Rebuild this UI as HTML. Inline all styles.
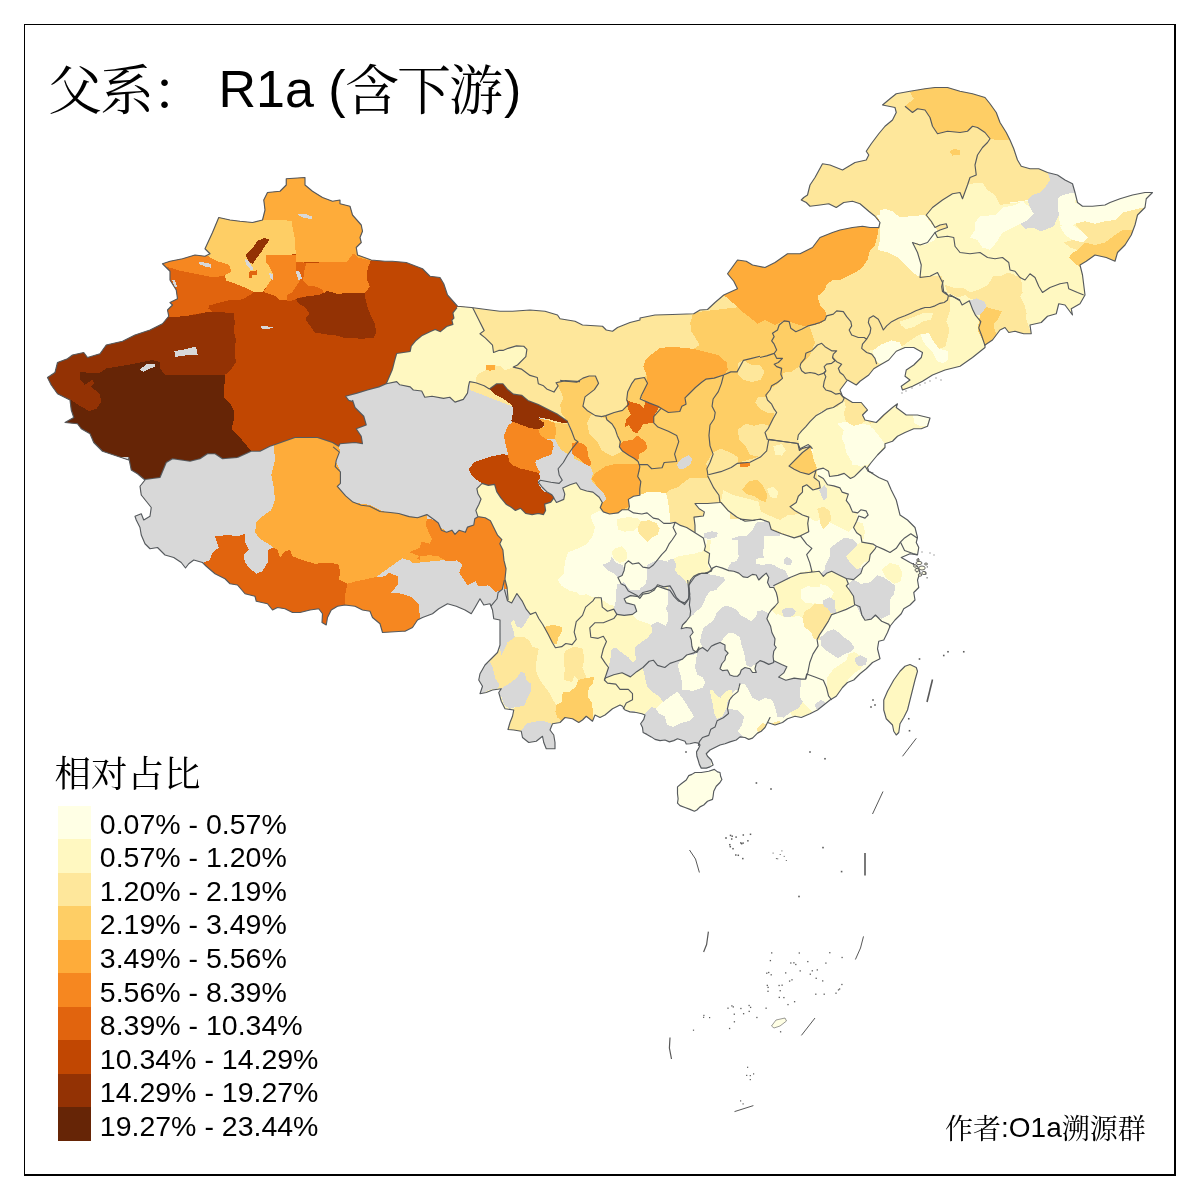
<!DOCTYPE html>
<html lang="zh"><head><meta charset="utf-8"><title>父系： R1a (含下游)</title>
<style>
html,body{margin:0;padding:0;background:#fff}
body{width:1200px;height:1200px;position:relative;overflow:hidden;font-family:"Liberation Sans","Noto Serif CJK SC",sans-serif;color:#000}
.fr{position:absolute;background:#000}
.title{position:absolute;left:0;top:0;white-space:pre}
.title span{position:absolute;line-height:60px;white-space:pre}
.tc{font-size:54px;letter-spacing:-2px}
.tl{font-size:52px}
.cj{font-family:"Noto Serif CJK SC","Liberation Serif",serif;font-weight:400}
.lt{position:absolute;left:54.6px;top:748.8px;font-size:36.5px;line-height:44px;white-space:nowrap}
.sw{position:absolute;left:58px;width:33px}
.ll{position:absolute;left:99.8px;font-size:28.5px;line-height:32px;white-space:nowrap}
.au{position:absolute;left:945px;top:1109.5px;font-size:28px;line-height:34px;white-space:nowrap}
.au .la{position:relative;top:-1.5px}
</style></head><body>
<svg width="1200" height="1200" viewBox="0 0 1200 1200" style="position:absolute;left:0;top:0">
<defs><clipPath id="cn"><path d="M128.75 460 L102.5 451.25 L93.75 442.5 L90 433.75 L81.25 428.75 L77.5 423.75 L65 422.5 L73.75 417.5 L71.25 410 L70 400 L57.5 393.75 L51.25 385 L47.5 377.5 L55 372.5 L57.5 362.5 L67.5 358.75 L72.5 355 L83.75 352.5 L87.5 357.5 L100 353.75 L106.25 345 L122.5 341.25 L135 335 L150 330 L162.5 323.75 L168.75 316.25 L167.5 310 L172.5 305 L170 302.5 L177.5 298.75 L176.25 290 L170 280 L170 271.25 L162.5 263.75 L170 261.25 L182.5 258.75 L195 255 L205 256.25 L210 253.75 L205 248.75 L212.5 232.5 L218.75 217.5 L230 220 L240 221.25 L252.5 222.5 L262.5 220 L265 210 L263.75 200 L267.5 192.5 L280 191.25 L286.25 185 L286.25 178.75 L305 177.5 L305 185 L312.5 191.25 L322.5 197.5 L332.5 201.25 L340 200 L340 203.75 L350 206.25 L352.5 215 L361.25 225 L362.5 231.25 L360 237.5 L361.25 242.5 L356.25 247.5 L357.5 255 L371.25 260 L385 261.25 L392.5 261.25 L406.25 262.5 L422.5 268.75 L430 276.25 L440 277.5 L443.75 283.75 L447.5 295 L457.5 306.25 L471.25 307.5 L490 310 L500 311.25 L512.5 311.25 L530 310 L545 311.25 L557.5 315 L560 318.75 L575 321.25 L582.5 325 L602.5 326.25 L606.25 330 L612.5 331.25 L617.5 327.5 L630 322.5 L640 320 L640 318 L655 315 L672.5 314.5 L693.75 313.75 L700 310 L707.5 309.5 L715 302.5 L723.75 295 L737.5 288.75 L733.75 281.25 L727.5 273.75 L737.5 260 L746.25 261.25 L752.5 265 L765 267.5 L775 262.5 L787.5 253.75 L800 253.75 L812.5 247.5 L820 237.5 L832.5 232.5 L840 230 L852.5 227.5 L862.5 226.25 L870 227.5 L878.75 227.5 L880 222.5 L875 216.25 L868.75 211.25 L860 203.75 L852.5 201.25 L843.75 202.5 L836.25 207.5 L828.75 203.75 L820 205 L810 206.25 L806.25 202.5 L801.25 200 L803.75 197.5 L807.5 195 L810 185 L815 177.5 L822.5 163.75 L830 165 L842.5 170 L855 162.5 L866.25 160 L866.25 160 L868.75 155 L866.25 151.25 L871.25 143.75 L878.75 133.75 L885 126.25 L892.5 120 L896.25 112.5 L895 107.5 L882.5 105 L890 98.75 L896.25 93.75 L910 91.25 L925 88.75 L935 87.5 L947.5 87.5 L960 91.25 L972.5 93.75 L985 97.5 L990 103.75 L996.25 112.5 L1000 122.5 L1006.25 132.5 L1010 140 L1013.75 148.75 L1017.5 160 L1021.25 166.25 L1030 168.75 L1038.75 168.75 L1047.5 172.5 L1057.5 175 L1065 180 L1072.5 183.75 L1075 192.5 L1077.5 202.5 L1082.5 206.25 L1092.5 206.25 L1105 205 L1110 202.5 L1120 198.75 L1132.5 195 L1145 192.5 L1152.5 192.5 L1146.25 198.75 L1145 207.5 L1137.5 215 L1135 225 L1131.25 235 L1125 245 L1117.5 252.5 L1115 261.25 L1106.25 257.5 L1095 255 L1086.25 261.25 L1080 265 L1082.5 275 L1083.75 285 L1085 295 L1080 303.75 L1071.25 308.75 L1072.5 315 L1065 305 L1058.75 303.75 L1056.25 313.75 L1047.5 316.25 L1041.25 322.5 L1030 325 L1031.25 333.75 L1023.75 333.75 L1015 331.25 L1008.75 332.5 L1005 327.5 L1000 330 L992.5 340 L985 345 L985 347.5 L972.5 357.5 L960 366.25 L945 370 L932.5 375 L922.5 381.25 L912.5 386.25 L902.5 390 L901.25 386.25 L910 380 L905 376.25 L906.25 370 L913.75 365 L921.25 357.5 L922.5 352.5 L913.75 347.5 L905 347.5 L896.25 351.25 L888.75 360 L880 365 L873.75 368.75 L868.75 375 L860 381.25 L856.25 385 L847.5 380 L843.75 385 L840 390 L842.5 396.25 L852.5 402.5 L861.25 402.5 L867.5 410 L862.5 415 L865 420 L876.25 422.5 L883.75 415 L892.5 407.5 L897.5 403.75 L896.25 407.5 L901.25 411.25 L906.25 415 L917.5 415 L930 418 L927.5 426.25 L921.25 428.75 L913.75 428.75 L905 432.5 L897.5 436.25 L892.5 441.25 L885 443.75 L885 447.5 L877.5 455 L871.25 462.5 L867.5 467.5 L868.75 471.25 L878.75 477.5 L887.5 481.25 L891.25 490 L896.25 500 L900 515 L907.5 520 L915 527.5 L917.5 537.5 L916.25 542.5 L918.75 547.5 L917.5 555 L910 553.75 L901.25 557.5 L910 562.5 L917.5 566.25 L920 572.5 L917.5 580 L918.75 587.5 L913.75 592.5 L915 600 L910 605 L903.75 608.75 L901.25 613.75 L895 620 L890 626.25 L887.5 632.5 L883.75 640 L878.75 641.25 L877.5 648.75 L880 658.75 L872.5 662.5 L866.25 668.75 L860 673.75 L853.75 680 L847.5 682.5 L842.5 687.5 L836.25 696.25 L830 700 L823.75 705 L817.5 710 L810 713.75 L801.25 717.5 L795 716.25 L787.5 718.75 L782.5 722.5 L775 725 L767.5 722.5 L770 717.5 L767.5 722.5 L765 727.5 L761.25 731.25 L757.5 733.12 L752.5 738.12 L748.75 739.38 L745 737.5 L740 736.88 L736.25 740 L730 741.88 L725 743.75 L720 745 L715 747.5 L710 750 L706.25 753.75 L707.5 756.25 L711.25 760 L713.12 765 L710 766.88 L706.25 768.12 L701.25 768.12 L699.38 764.38 L698.12 760 L696.88 756.25 L696.5 751.88 L698.75 748.12 L700 745 L698.12 743.12 L695 742.5 L690 743.75 L686.25 744 L685 741.25 L681.25 740 L677.5 738.75 L673.75 740.62 L669.38 741.88 L665 740 L660 740.62 L655 739.38 L651.25 736.88 L646.88 734.38 L643.12 732.5 L642.5 727.5 L640.62 723.75 L643.75 719.38 L645 715 L641.88 713.75 L636.25 712.5 L630 711.88 L625 710 L622.5 706.25 L620 705 L612.5 708.75 L605 715 L600 717.5 L595 715 L592.5 721.25 L586.25 716.25 L582.5 720 L578.75 722.5 L572.5 718.75 L565 717.5 L560 722.5 L552.5 723.75 L550 730 L553.75 735 L555 742.5 L555 748.75 L546.25 748.75 L543.75 742.5 L542.5 736.25 L536.25 741.25 L528.75 742.5 L522.5 737.5 L521.25 731.25 L513.75 730 L508 729.5 L510 722.5 L512.5 716.25 L513.75 710 L505 708.75 L501.25 701.25 L498.75 692.5 L501.25 688.75 L492.5 690 L486.25 692.5 L480 693.75 L482.5 686.25 L478.75 680 L480 673.75 L485 665 L491.25 658.75 L497.5 652.5 L500 645 L500 632.5 L500 620 L493.75 618.75 L492.5 610 L490 603.75 L483.75 605 L480 598.75 L475 607.5 L471.25 613.75 L465 610 L456.25 606.25 L447.5 603.75 L438.75 608.75 L432.5 613.75 L422.5 617.5 L417.5 620 L412.5 627.5 L405 631.25 L402.5 631.25 L382.5 632.5 L380 623.75 L372.5 617.5 L370 611.25 L362.5 610 L355 606.25 L345 605 L337.5 606.25 L331.25 610 L327.5 617.5 L326.25 625 L322 622.5 L322.5 613.75 L318.75 608.75 L310 610 L300 612.5 L292.5 612.5 L285 608.75 L277.5 607.5 L272.5 610 L267.5 603.75 L256.25 601.25 L255 596.25 L245 593.75 L237.5 585 L230 583.75 L225 578.75 L215 573.75 L206.25 566.25 L202.5 562.5 L193.75 560 L188.75 563.75 L185.5 568 L181.25 562.5 L173.75 557.5 L165 555 L157.5 547.5 L150 548.75 L145 543.75 L141.25 535 L140 527.5 L136.25 520 L135 516.25 L141.25 513.75 L143.75 520 L150 516.25 L151.25 507.5 L146.25 501.25 L141.25 495 L140 486.25 L145 480 L137.5 473.75 L131.25 470 L128.75 457.5Z M695 772.5 L701.25 772.5 L708.75 771.25 L714.38 769.38 L717.5 771.88 L720 772.5 L720.62 776.25 L721.88 779.38 L720 782.5 L716.25 786.25 L713.75 791.25 L713.12 796.25 L712.5 799.38 L707.5 801.25 L703.75 805 L700 806.88 L696.88 810 L694.38 811.25 L690 809.38 L685 807.5 L680 805.62 L677.5 803.12 L678.12 798.75 L677.5 793.75 L677.5 786.88 L681.25 783.75 L686.25 780 L688.75 775.62 L691.88 774.38Z M910 664.5 L916.25 667.5 L917.5 671.25 L915 680 L912.5 690 L910 700 L907.5 710 L903.75 717.5 L900 723.75 L898.75 732.5 L896.25 735 L893.75 731.25 L892.5 725 L886.25 718.75 L883.75 710 L883.75 700 L887.5 691.25 L893.75 680 L900 671.25 L905 666.25Z"/></clipPath></defs>
<g clip-path="url(#cn)" shape-rendering="crispEdges">
<rect x="40" y="80" width="1130" height="760" fill="#ffffe5"/>
<polygon fill="#c14702" points="40,160 470,160 470,480 40,480"/>
<polygon fill="#662506" points="225.42,374.58 224.38,385 224.38,397.5 230.62,403.75 233.75,410 233.75,420.42 231.67,428.75 237.92,435 243.12,441.25 248.33,447.5 251.46,451.67 251.46,499.58 40,499.58 40,357.92 165,357.92 165,374.58"/>
<polygon fill="#e1640e" points="170.83,267.92 181.25,271.04 191.67,273.12 202.08,275.21 212.5,277.29 220.83,276.25 225,275.21 226.04,280.42 237.5,284.58 247.92,288.75 254.17,291.88 250,295 244.79,298.12 239.58,300.21 229.17,300.21 216.67,303.33 209.38,305.42 208.33,308.54 212.5,311.67 204.17,312.71 191.67,314.79 183.33,320 162.5,322.08 158.33,305.42 162.5,286.67 162.5,265.83"/>
<polygon fill="#933204" points="167.08,317.29 183.75,316.25 198.33,314.17 206.67,312.08 219.17,312.08 233.75,313.12 234.79,322.5 233.75,330.83 235.83,339.17 234.79,351.67 235.83,362.08 230.62,370.42 225.42,374.58 165,374.58 159.79,368.33 159.79,362.08 152.5,360 142.08,362.08 131.67,364.17 119.17,366.25 106.67,368.33 100.42,372.5 92.08,373.54 80.62,371.46 79.58,378.75 84.79,385 92.08,379.79 94.17,382.92 91.04,387.08 99.38,393.33 101.46,401.67 96.25,408.96 88.96,411.04 81.67,406.88 73.33,401.67 71.25,399.58 40,399.58 40,317.29"/>
<polygon fill="#feac3a" points="263.54,220 279.17,219.58 291.67,221.04 292.71,228.33 294.79,238.75 295.83,254.38 295.83,261.67 306.25,262.08 346.88,262.08 353.12,253.33 358.33,257.5 370.83,260.62 379.17,232.5 370.83,170 254.17,170 254.17,220"/>
<polygon fill="#fece65" points="204.17,253.33 210.42,257.5 218.75,261.67 229.17,264.79 231.25,272.08 225,275.21 226.04,280.42 237.5,284.58 247.92,288.75 254.17,291.88 262.5,291.88 266.67,286.67 270.83,280.42 272.92,274.17 269.79,266.88 265.62,261.67 265.62,255.42 295.83,254.38 294.79,238.75 292.71,228.33 291.67,221.04 279.17,219.58 263.54,220 254.17,211.67 218.75,211.67 200,242.92"/>
<polygon fill="#933204" points="269.79,238.75 266.67,243.96 263.54,248.12 260.42,253.33 256.25,258.54 253.12,263.75 250,262.71 246.88,258.54 245.83,254.38 250,250.21 254.17,246.04 257.29,240.83 263.54,238.33"/>
<polygon fill="#e1640e" points="249.58,271.04 257.29,270.42 256.67,275.21 252.08,275.21 251.67,278.33 249.17,278.33"/>
<polygon fill="#d8d8d8" points="244.79,258.54 247.92,260.62 253.54,268.96 251.04,270.42 245.83,263.75"/>
<polygon fill="#f68720" points="265.62,255.42 295.83,255 295.83,261.67 306.25,262.71 304.17,272.08 303.12,280.42 295.83,286.67 291.67,292.92 287.5,295 286.46,300.21 280.21,300.21 275,296.04 266.67,292.92 263.54,291.88 266.67,286.67 270.83,280.42 272.92,274.17 269.79,266.88 265.62,261.67"/>
<polygon fill="#e1640e" points="295.83,262.08 306.25,262.71 304.17,272.08 303.12,280.42 308.33,285.62 316.67,286.67 322.92,289.79 323.96,292.92 318.75,295 308.33,296.04 300,297.5 295.83,299.17 289.58,301.25 286.46,300.21 287.5,295 291.67,292.92 295.83,286.67 300,280.42 295.83,270"/>
<polygon fill="#f68720" points="306.25,262.71 346.88,262.08 353.12,253.33 358.33,257.5 370.83,260.62 367.71,267.92 366.67,278.33 369.79,286.67 366.67,290.83 364.58,292.92 347.92,292.92 337.5,293.96 327.08,290.83 323.96,292.92 322.92,289.79 316.67,286.67 308.33,285.62 303.12,280.42 304.17,272.08"/>
<polygon fill="#933204" points="295.83,298.75 308.33,296.04 318.75,295 323.96,292.92 327.08,290.83 337.5,293.96 347.92,292.92 364.58,292.92 365.62,299.17 367.71,307.5 370.83,315.83 375,324.17 376.04,332.5 373.96,337.71 362.5,338.75 343.75,337.71 337.5,335.62 327.08,334.58 314.58,332.5 310.42,326.25 305.21,318.96 309.38,313.75 305.21,307.5 300,304.38 296.88,301.25"/>
<polygon fill="#f68720" points="158.33,261.67 170.83,258.54 194.79,252.29 204.17,253.33 210.42,257.5 218.75,261.67 229.17,264.79 231.25,272.08 225,275.21 220.83,276.25 212.5,277.29 202.08,275.21 191.67,273.12 181.25,271.04 170.83,267.92 162.5,265.83"/>
<polygon fill="#d8d8d8" points="174.38,351.04 185.83,349.17 195.83,346.46 197.71,354.79 185.83,355.42 175.42,356.88"/>
<polygon fill="#d8d8d8" points="140,369.38 147.29,363.54 155.62,363.54 155,366.67 148.33,369.38 143.12,371.88"/>
<polygon fill="#d8d8d8" points="198.96,261.67 210.42,263.75 211.46,267.92 204.17,266.25 199.58,264.17"/>
<polygon fill="#d8d8d8" points="297.92,213.75 306.25,214.17 312.5,216.88 311.46,218.96 304.17,217.92 298.96,215.83"/>
<polygon fill="#d8d8d8" points="260.42,326.25 272.92,326.67 272.5,328.33 262.5,329.17"/>
<polygon fill="#d8d8d8" points="295.83,271.04 299.58,271.67 302.08,278.33 298.33,280.42 296.88,275.21"/>
<polygon fill="#d8d8d8" points="269.17,273.12 272.92,274.17 272.5,280 270.42,278.33"/>
<polygon fill="#d8d8d8" points="171.88,279.38 175,280.42 177.08,286.67 174.58,287.71"/>
<polygon fill="#d8d8d8" points="120,457 128.75,457.5 131.25,470 137.5,473.75 145,479.5 160,477.5 166.25,462.5 172.5,458.75 190,461.25 200,458.75 207.5,453.75 215,453.75 222.5,458.75 237.5,457.5 251.25,451.25 260,451.25 270,446.25 273.75,445 295,437.5 317.5,437.5 332.5,442.5 338.75,446.25 340,443.75 355,442.5 362.5,443.75 361.25,436.25 356.25,428.75 366.25,425 363.75,416.25 355,407.5 352.5,400 352.92,401.46 348.75,400.42 345.62,396.25 357.08,393.12 367.5,390 378.96,386.88 386.25,383.75 396.67,381.67 399.79,384.79 410.21,386.88 413.33,390 421.67,391.04 424.79,397.29 432.08,396.25 443.54,398.33 449.79,397.29 455,402.08 463.33,399.38 467.5,393.12 468.54,385.83 469.58,381.67 475.83,382.71 484.17,385.83 489.38,388.96 580,388.96 640,389 640,700 100,700 100,458"/>
<polygon fill="#feac3a" points="273.75,445 295,437.5 317.5,437.5 332.5,442.5 338.75,446.25 340,451.25 335,460 340,470 337.5,485 343.75,495 353.75,502.5 370,505 382.5,511.25 395,513.75 407.5,516.25 420,517.5 445,530 445,560 420,562.5 412.5,562.5 405,556.25 400,560 391.25,566.25 382.5,572.5 372.5,577.5 360,580 347.5,583.75 340,580 340,575 337.5,565 327.5,562.5 315,563.75 302.5,560 292.5,556.25 290,550 285,551.25 280,557.5 277.5,550 272.5,547.5 270,545 260,538.75 255,532.5 256.25,522.5 262.5,516.25 271.25,510 275,500 273.75,487.5 271.25,475 275,460"/>
<polygon fill="#e1640e" points="203.75,562.5 210,560 212.5,552.5 218.75,547.5 215,536.25 227.5,535 237.5,536.25 245,533.75 245,542.5 248.75,550 243.75,555 245,562.5 248.75,567.5 256.25,573.75 262.5,571.25 267.5,562.5 267.5,550 272.5,547.5 277.5,550 280,557.5 285,551.25 290,550 292.5,556.25 302.5,560 315,563.75 327.5,562.5 337.5,565 340,575 340,580 347.5,583.75 345,595 345,605 337.5,637.5 270,637.5 195,575"/>
<polygon fill="#f68720" points="347.5,583.75 360,580 372.5,577.5 385,576.25 388.75,572.5 397.5,576.25 397.5,585 391.25,592.5 402.5,593.75 412.5,597.5 418.75,604 420,618 412.5,631.25 402.5,640 370,640 345,607.5 345,595"/>
<polygon fill="#f68720" points="408.75,550 420,548.75 420,560 413.75,557.5"/>
<polygon fill="#e1640e" points="330,562.5 338.33,564.58 340.42,572.92 338.33,579.17 346.67,583.33 344.58,600 330,600"/>
<polygon fill="#f68720" points="426.88,518.75 434.17,519.79 438.33,522.92 441.46,530.21 446.67,532.29 451.88,530.21 455,534.38 459.17,530.21 465.42,532.29 467.5,527.08 473.75,525 474.79,518.75 477.92,516.67 485.21,517.71 490.42,520.83 494.58,529.17 497.71,535.42 501.88,539.58 499.79,543.75 502.92,550 503.96,560.42 506.04,568.75 505,579.17 507.08,587.5 508.12,600 496.67,600 495.62,591.67 488.33,585.42 477.92,586.46 475.83,581.25 467.5,585.42 463.33,579.17 459.17,572.92 462.29,564.58 457.08,560.42 446.67,561.46 438.33,556.25 430,555.21 419.58,556.25 409.17,552.08 419.58,547.92 421.67,541.67 430,543.75 432.08,538.54 428.96,533.33 425.83,525"/>
<polygon fill="#feac3a" points="333.12,446.88 339.38,452.08 336.25,460.42 335.21,466.67 340.42,471.88 340.42,483.33 337.29,486.46 345.62,495.83 352.92,502.08 361.25,505.21 369.58,506.25 380,511.46 390.42,512.5 398.75,513.54 409.17,516.67 417.5,517.71 426.88,514.58 426.88,518.75 425.83,525 428.96,533.33 432.08,538.54 430,543.75 421.67,541.67 419.58,547.92 409.17,552.08 419.58,556.25 415.42,560.42 409.17,560.42 398.75,557.29 392.5,560.42 383.12,569.79 382.08,572.92 375.83,577.08 361.25,580.21 346.67,583.33 338.33,579.17 340.42,572.92 338.33,564.58 330,562.5 317.5,545.83 317.5,462.5"/>
<polygon fill="#fee79b" points="470,300 1000,120 1000,420 640,440 560,425 470,390"/>
<polygon fill="#fee79b" points="850,80 1010,80 1010,330 850,330"/>
<polygon fill="#fff8c1" points="457.08,307.71 452.92,312.92 453.96,318.12 451.88,320.21 452.92,324.38 446.67,326.46 440.42,331.67 435.21,329.58 430,331.67 421.67,335.83 415.42,341.04 411.25,346.25 410.21,351.46 396.67,353.54 394.58,360.83 392.5,369.17 389.38,376.46 386.25,383.75 396.67,381.67 399.79,384.79 410.21,386.88 413.33,390 421.67,391.04 424.79,397.29 432.08,396.25 443.54,398.33 449.79,397.29 455,402.08 463.33,399.38 467.5,393.12 468.54,385.83 469.58,381.67 475.83,382.71 475.83,377.5 478.96,373.33 485.21,370.21 491.46,365 500.83,366.04 505,370.21 513.33,367.08 517.5,365 525.83,356.67 526.88,349.38 523.75,346.25 516.46,345.83 508.12,348.33 502.92,350.42 498.75,350.42 493.54,352.5 492.5,345.21 485.21,337.92 480,333.75 484.17,330.62 478.96,320.21 472.71,307.71 465.42,302.5"/>
<polygon fill="#fee79b" points="475.83,377.5 478.96,373.33 485.21,370.21 496.67,371.25 505,370.21 513.33,367.08 521.67,369.17 530,375.42 537.29,377.5 538.33,383.75 543.54,385.83 546.67,388.96 553.96,392.08 557.08,398.33 561.25,404.58 560.21,412.92 567.5,421.25 557.08,413.96 546.67,408.75 538.33,404.58 527.92,400.42 521.67,395.21 513.33,394.17 507.08,388.96 502.92,383.75 496.67,383.75 489.38,388.96 484.17,385.83 475.83,382.71"/>
<polygon fill="#feac3a" points="486.25,365 494.58,365 495.62,369.17 490.42,370.83 485.83,369.58"/>
<polygon fill="#933204" points="489.38,388.96 496.67,383.75 502.92,383.75 507.08,388.96 513.33,394.17 521.67,395.21 527.92,400.42 538.33,404.58 546.67,408.75 557.08,413.96 567.5,421.25 568.54,423.33 559.17,422.29 548.75,419.17 538.33,417.08 543.54,421.25 544.58,425.42 540.42,428.54 530,428.54 521.67,426.46 513.33,423.33 511.25,421.25 512.29,417.08 513.33,408.75 511.25,404.58 502.92,398.33 494.58,394.17"/>
<polygon fill="#c14702" points="468.54,469.79 473.75,462.5 482.08,459.38 491.46,456.25 502.92,454.17 508.12,455.21 509.17,461.46 513.33,465.62 521.67,468.75 530,470.83 538.33,472.92 540.42,477.08 538.33,482.29 542.5,487.5 546.67,491.67 551.88,494.79 553.96,497.92 550.83,502.08 544.58,504.17 545.62,510.42 543.54,514.58 538.33,513.54 532.08,514.58 525.83,513.54 520.62,508.33 515.42,510.42 511.25,507.29 506.04,504.17 500.83,497.92 496.67,491.67 494.58,484.38 488.33,485.42 482.08,483.33 475.83,479.17 471.67,475"/>
<polygon fill="#f68720" points="508.12,425 513.33,421.88 521.67,425 530,428.12 538.33,429.17 540.42,435.42 546.67,439.58 552.92,441.67 553.96,450 550.83,456.25 546.67,458.33 538.33,459.38 535.21,462.5 540.42,466.67 541.46,471.88 538.33,472.92 530,470.83 521.67,468.75 513.33,465.62 509.17,461.46 508.12,455.21 507.08,450 505,441.67 503.96,435.42"/>
<polygon fill="#feac3a" points="538.33,418.75 546.67,419.79 555,422.92 556.04,431.25 555,438.54 546.67,439.58 540.42,435.42 538.33,429.17 543.54,427.08 544.58,422.92"/>
<polygon fill="#fece65" points="555,422.92 568.54,423.96 571.67,431.25 574.79,439.58 577.92,441.67 572.71,447.92 567.5,454.17 561.25,450 557.08,443.75 555,438.54 556.04,431.25"/>
<polygon fill="#fece65" points="693.33,312.5 690.21,322.92 691.25,331.25 696.46,339.58 699.58,344.79 693.33,348.96 685,347.92 672.5,346.88 660,347.92 651.67,354.17 645.42,360.42 643.33,366.67 646.46,375 644.38,377.5 635,379.17 631.88,383.33 627.71,391.67 626.67,400 628.75,404.17 622.5,410.42 614.17,412.5 605.83,415.62 601.67,416.67 595.42,415.62 587.08,410.42 582.92,406.25 585,396.88 594.38,389.58 598.54,383.33 595.42,376.04 589.17,376.04 582.92,378.12 576.67,382.29 566.25,381.25 560,380.21 565.42,380.62 556.04,382.71 558.12,385.83 561.25,392.08 563.33,398.33 560.21,404.58 561.25,412.92 567.5,421.25 571.67,429.58 573.75,440 574,520 800,520 800,300"/>
<polygon fill="#feac3a" points="643.33,366.67 645.42,360.42 651.67,354.17 660,347.92 672.5,346.88 685,347.92 693.33,348.96 705.83,352.08 718.33,355.21 726.67,362.5 727.71,369.79 724.58,373.96 714.17,378.12 705.83,379.17 701.67,382.29 695.42,387.5 689.17,393.75 685,397.92 686.04,404.17 681.88,406.25 679.79,411.46 668.33,412.5 662.08,408.33 657.92,406.25 649.58,403.12 641.25,397.92 644.38,389.58 647.5,383.33 646.46,375"/>
<polygon fill="#e1640e" points="626.67,400 631.88,402.08 639.17,404.17 643.33,408.33 645.42,402.08 653.75,404.17 658.96,407.29 653.75,416.67 653.75,422.92 643.33,423.96 640.21,429.17 637.08,433.33 632.92,431.25 628.75,425 624.58,427.08 626.67,418.75 630.83,414.58 627.71,408.33"/>
<polygon fill="#f68720" points="619.38,445.83 622.5,441.67 632.92,439.58 637.08,435.42 640.21,437.5 645.42,441.67 647.5,447.92 643.33,452.08 639.17,454.17 638.12,461.46 633.96,458.33 628.75,455.21 622.5,451.04"/>
<polygon fill="#fee79b" points="591.25,414.58 601.67,416.67 606.88,419.79 612.08,423.96 615.21,429.17 618.33,437.5 619.38,445.83 622.5,451.04 612.08,456.25 607.92,454.17 601.67,450 597.5,441.67 589.17,433.33 587.08,422.92"/>
<polygon fill="#f68720" points="572.5,454.17 571.46,443.75 576.67,441.67 582.92,443.75 587.08,447.92 588.12,456.25 591.25,462.5 590.21,466.67 585,464.58 578.75,458.33"/>
<polygon fill="#feac3a" points="604.79,466.67 612.08,464.58 622.5,463.54 630.83,464.58 639.17,464.58 637.08,472.92 640.21,481.25 638.12,487.5 639.17,495.83 628.75,496.88 618.33,494.79 607.92,497.92 599.58,491.67 595.42,483.33 591.25,479.17 595.42,472.92"/>
<polygon fill="#fff8c1" points="508.12,600 507.08,587.5 505,579.17 506.04,568.75 503.96,560.42 502.92,550 499.79,543.75 501.88,539.58 497.71,535.42 494.58,529.17 490.42,520.83 485.21,517.71 477.92,516.67 475.83,510.42 478.96,504.17 481.04,498.96 477.92,493.75 476.88,488.54 482.08,483.33 488.33,485.42 494.58,484.38 496.67,491.67 500.83,497.92 506.04,504.17 511.25,507.29 515.42,510.42 520.62,508.33 525.83,513.54 532.08,514.58 538.33,513.54 543.54,514.58 545.62,510.42 544.58,504.17 550.83,502.08 553.96,497.92 553.33,497.29 556.46,502.5 563.75,499.38 564.79,494.17 562.71,487.92 570,484.79 576.25,482.71 580.42,488.96 586.67,491.04 592.92,492.08 599.17,497.29 602.29,502.5 600.21,507.71 603.33,511.88 609.58,513.96 617.92,512.92 622.08,509.79 628.33,509.79 633.54,512.92 641.88,513.96 647.08,512.92 653.33,518.12 658.54,519.17 663.75,523.33 670,523.33 675.21,522.29 707.5,522.29 707.5,648.33 499.17,648.33"/>
<polygon fill="#f68720" points="520,440 551.25,440 553.33,448.33 551.25,454.58 542.92,457.71 535.62,460.83 532.5,467.08 526.25,469.17 520,469.17 511.67,452.5"/>
<polygon fill="#d8d8d8" points="535.62,460.83 542.92,457.71 551.25,454.58 554.38,444.17 558.54,447.29 561.67,453.54 564.79,458.75 570,456.67 574.17,458.75 582.5,462.92 590.83,467.08 592.92,473.33 590.83,479.58 598.12,487.92 603.33,493.12 606.46,499.38 602.29,502.5 599.17,497.29 592.92,492.08 586.67,491.04 580.42,488.96 576.25,482.71 570,484.79 562.71,487.92 564.79,494.17 563.75,499.38 556.46,502.5 553.33,497.29 551.25,494.17 542.92,491.04 538.75,484.79 537.71,480.62 540.83,477.5 539.79,471.25 536.67,467.08"/>
<polygon fill="#feac3a" points="607.5,469.17 617.92,466.04 628.33,463.96 638.75,463.96 639.79,471.25 637.71,476.46 640.83,481.67 639.79,488.96 639.79,495.21 633.54,496.25 628.33,499.38 629.38,506.67 622.08,509.79 617.92,512.92 609.58,513.96 603.33,511.88 600.21,507.71 602.29,502.5 606.46,499.38 603.33,493.12 598.12,487.92 595,481.67 600.21,479.58 605.42,476.46"/>
<polygon fill="#fee79b" points="665.83,493.12 670,490 678.33,486.88 684.58,481.67 690.83,477.5 699.17,478.54 707.5,477.5 710.62,481.67 713.75,487.92 718.96,495.21 720,502.5 707.5,503.54 695,503.54 699.17,508.75 704.38,511.88 703.33,516.04 693.96,517.08 695,525.42 695,532.71 686.67,527.5 680.42,525.42 675.21,522.29 670,522.29 670,517.08 668.96,508.75 667.92,500.42"/>
<polygon fill="#ffffe5" points="628.33,499.38 633.54,496.25 639.79,495.21 647.08,492.08 657.5,492.08 665.83,493.12 667.92,500.42 668.96,508.75 670,517.08 670,522.29 663.75,523.33 658.54,519.17 653.33,518.12 647.08,512.92 641.88,513.96 633.54,512.92 628.33,509.79 629.38,506.67"/>
<polygon fill="#fee79b" points="707.5,475.42 720,471.25 730.42,467.08 740.83,461.88 755.42,457.71 770,452.5 832.5,452.5 832.5,520.21 755.42,520.21 745,521.25 736.67,517.08 728.33,510.83 721.04,502.5 718.96,495.21 713.75,487.92 710.62,481.67"/>
<polygon fill="#ffffe5" points="590.83,515 599.17,510.83 607.5,513.96 617.92,512.92 622.08,509.79 628.33,509.79 633.54,512.92 641.88,513.96 647.08,512.92 653.33,518.12 658.54,519.17 663.75,523.33 670,523.33 675.21,522.29 676.25,533.75 670,542.08 665.83,550.42 661.67,554.58 657.5,559.79 653.33,565 649.17,568.12 642.92,567.08 638.75,562.92 632.5,563.96 628.33,560.83 625.21,563.96 624.17,570.21 622.08,575.42 617.92,577.5 621.04,583.75 625.21,585.83 628.33,591.04 630.42,596.25 624.17,598.33 622.08,604.58 628.33,606.67 635.62,608.75 634.58,613.96 628.33,615 620,612.92 616.88,606.67 609.58,604.58 603.33,600.42 599.17,596.25 592.92,597.29 586.67,594.17 580.42,595.21 576.25,592.08 570,591.04 561.67,585.83 557.5,579.58 563.75,573.33 564.79,562.92 567.92,552.5 578.33,548.33 586.67,544.17 592.92,535.83 595,527.5 591.88,521.25"/>
<polygon fill="#fff8c1" points="616.88,519.17 628.33,517.08 637.71,518.12 640.83,521.25 637.71,527.5 633.54,530.62 624.17,531.67 617.92,529.58"/>
<polygon fill="#fee79b" points="637.71,527.5 640.83,521.25 649.17,520.21 656.46,523.33 659.58,528.54 657.5,534.79 651.25,537.92 647.08,542.08 642.92,537.92 638.75,533.75"/>
<polygon fill="#fff8c1" points="614.79,548.33 622.08,546.25 627.29,552.5 626.25,560.83 620,562.92 613.75,558.75 611.67,552.5"/>
<polygon fill="#d8d8d8" points="602.29,565 609.58,561.88 611.67,556.67 615.83,562.92 623.12,565 624.17,570.21 622.08,575.42 617.92,577.5 613.75,573.33 607.5,570.21"/>
<polygon fill="#ffffe5" points="675.21,522.29 686.67,527.5 695,532.71 703.33,537.92 705.42,546.25 704.38,550.42 709.58,553.54 708.54,562.92 711.67,569.17 720,575.42 725.21,577.5 720,583.75 713.75,585.83 707.5,592.08 703.33,600.42 699.17,608.75 692.92,610.83 689.79,602.5 686.67,604.58 680.42,601.46 676.25,597.29 673.12,591.04 670,585.83 663.75,586.88 657.5,584.79 654.38,590 649.17,593.12 642.92,594.17 639.79,598.33 636.67,595.21 628.33,591.04 625.21,585.83 621.04,583.75 617.92,577.5 622.08,575.42 624.17,570.21 625.21,563.96 628.33,560.83 632.5,563.96 638.75,562.92 642.92,567.08 649.17,568.12 653.33,565 657.5,559.79 661.67,554.58 665.83,550.42 670,542.08 676.25,533.75"/>
<polygon fill="#fff8c1" points="675.21,558.75 684.58,555.62 690.83,556.67 697.08,553.54 704.38,550.42 709.58,553.54 708.54,562.92 711.67,569.17 707.5,573.33 701.25,573.33 695,576.46 689.79,583.75 684.58,579.58 680.42,573.33 675.21,569.17"/>
<polygon fill="#d8d8d8" points="647.08,565 657.5,559.79 665.83,560.83 674.17,565 675.21,573.33 680.42,577.5 686.67,583.75 688.75,594.17 686.67,604.58 680.42,601.46 676.25,597.29 673.12,591.04 670,585.83 663.75,586.88 657.5,584.79 654.38,590 649.17,593.12 642.92,594.17 639.79,598.33 636.67,595.21 640.83,587.92 646.04,583.75 647.08,575.42"/>
<polygon fill="#d8d8d8" points="616.88,583.75 624.17,585.83 628.33,591.04 630.42,596.25 624.17,598.33 622.08,604.58 628.33,606.67 635.62,608.75 634.58,613.96 628.33,615 620,612.92 616.88,606.67 615.83,598.33"/>
<polygon fill="#ffffe5" points="624.17,598.33 630.42,596.25 636.67,595.21 639.79,598.33 642.92,594.17 649.17,593.12 654.38,590 657.5,584.79 663.75,586.88 668.96,590 665.83,598.33 663.75,606.67 665.83,615 661.67,623.33 653.33,621.25 645,623.33 640.83,619.17 635.62,617.08 634.58,613.96 635.62,608.75 628.33,606.67 622.08,604.58"/>
<polygon fill="#d8d8d8" points="663.75,606.67 670,598.33 676.25,597.29 680.42,601.46 686.67,604.58 690.83,612.92 691.88,621.25 688.75,627.5 684.58,631.67 692.92,635.83 695,648.33 653.33,648.33 653.33,635.83 652.29,627.5 653.33,621.25 661.67,623.33 665.83,615"/>
<polygon fill="#ffffe5" points="695,503.54 707.5,503.54 720,502.5 728.33,510.83 736.67,517.08 745,521.25 755.42,520.21 832.5,520.21 832.5,648.33 692.92,648.33 692.92,610.83 699.17,608.75 703.33,600.42 707.5,592.08 713.75,585.83 720,583.75 725.21,577.5 720,575.42 711.67,569.17 708.54,562.92 709.58,553.54 704.38,550.42 705.42,546.25 703.33,537.92 695,532.71 695,525.42 693.96,517.08 703.33,516.04 704.38,511.88 699.17,508.75"/>
<polygon fill="#d8d8d8" points="737.71,540 745,535.83 755.42,533.75 757.5,523.33 764.79,521.25 770,520.21 780.42,523.33 780.42,573.33 765.83,575.42 755.42,573.33 749.17,575.42 740.83,573.33 730.42,569.17 727.29,566.04 736.67,560.83 737.71,552.5"/>
<polygon fill="#d8d8d8" points="703.33,533.75 711.67,531.25 717.92,532.71 716.88,536.88 709.58,538.96 704.38,537.92"/>
<polygon fill="#d8d8d8" points="689.79,583.75 695,576.46 701.25,573.33 707.5,573.33 720,575.42 725.21,577.5 720,583.75 713.75,585.83 707.5,592.08 703.33,600.42 699.17,608.75 692.92,610.83 689.79,602.5 689.79,594.17"/>
<polygon fill="#d8d8d8" points="701.25,640 707.5,627.5 713.75,617.08 720,610.83 728.33,606.67 736.67,606.67 742.92,610.83 749.17,615 757.5,610.83 763.75,608.75 770,606.67 770,640"/>
<polygon fill="#fee79b" points="827.08,314.38 825,320.62 816.67,322.71 808.33,326.88 813.54,334.17 814.58,342.5 810.42,350.83 804.17,359.17 797.92,367.5 791.67,371.67 783.33,372.71 781.25,380 777.08,384.17 770.83,388.33 766.67,396.67 758.33,396.67 755.21,402.92 760.42,409.17 768.75,413.33 773.96,413.33 772.92,419.58 768.75,425.83 765.62,433.12 768.75,439.38 783.33,441.46 797.92,443.54 800,448.75 808.33,444.58 812.5,448.75 813.54,459.17 816.67,467.5 816.67,480 845.83,480 850,467.5 858.33,461.25 866.67,455 872.92,446.67 877.08,440.42 872.92,430 866.67,423.75 858.33,425.83 850,423.75 845.83,419.58 841.67,413.33 845.83,405 858.33,402.92 868.75,409.17 950,409.17 950,280 828.12,280 827.08,286.25 820.83,292.5 816.67,299.79 821.88,307.08"/>
<polygon fill="#feac3a" points="723.75,295 737.5,288.75 733.75,281.25 727.5,273.75 737.5,260 746.25,247.5 815,222.5 880,217.5 878.75,227.5 877.5,235 875,245 870,250 867.5,260 862.5,267.5 855,272.5 847.5,276.25 840,280 832.5,280 826.25,285 825,290 817.5,296.25 820,305 826.25,312.5 825,320 820,323.75 812.5,325 805,327.5 797.5,331.25 791.25,330 790,322.5 782.5,321.25 775,325 765,320 757.5,323.75 750,317.5 740,310 732.5,302.5"/>
<polygon fill="#fee79b" points="737.5,363.33 743.75,360.21 752.08,365.42 760.42,365.42 764.58,371.67 760.42,380 752.08,382.08 743.75,380 737.5,373.75"/>
<polygon fill="#fee79b" points="737.5,430 745.83,423.75 754.17,425.83 762.5,423.75 768.75,425.83 765.62,433.12 768.75,439.38 766.67,450.83 760.42,457.08 750,455 745.83,446.67 739.58,440.42"/>
<polygon fill="#fee79b" points="706.25,463.33 712.5,452.92 720.83,448.75 731.25,452.92 737.5,457.08 737.5,463.33 731.25,467.5 720.83,471.67 708.33,474.79"/>
<polygon fill="#feac3a" points="739.58,461.67 750,462.29 751.04,466.46 743.75,467.92 740,465.42"/>
<polygon fill="#fff8c1" points="843.75,399.79 850,402.92 858.33,402.92 866.67,409.17 862.5,417.5 870.83,423.75 881.25,419.58 887.5,413.33 895.83,405 970.83,405 970.83,509.17 816.67,509.17 816.67,467.5 813.54,459.17 812.5,448.75 808.33,444.58 800,448.75 797.92,438.33 800,432.08 808.33,423.75 814.58,416.46 820.83,411.25 829.17,408.12 837.5,407.08"/>
<polygon fill="#fee79b" points="843.75,399.79 850,402.92 858.33,402.92 864.58,407.08 868.75,413.33 864.58,421.67 858.33,425.83 852.08,425.83 845.83,421.67 843.75,413.33 845.83,407.08"/>
<polygon fill="#fece65" points="789.58,463.33 797.92,457.08 804.17,450.83 810.42,446.67 813.54,459.17 816.67,467.5 815.62,473.75 808.33,475.83 800,473.75 793.75,467.5"/>
<polygon fill="#ffffe5" points="837.5,423.75 845.83,421.67 854.17,425.83 862.5,423.75 870.83,425.83 872.92,434.17 866.67,440.42 860.42,446.67 852.08,444.58 845.83,446.67 841.67,438.33 843.75,430"/>
<polygon fill="#ffffe5" points="868.75,350.83 877.08,344.58 887.5,341.46 895.83,340.42 900,346.67 893.75,352.92 885.42,359.17 879.17,363.33 875,359.17"/>
<polygon fill="#fff8c1" points="900,321.67 908.33,315.42 920.83,311.25 931.25,311.25 933.33,317.5 925,321.67 916.67,325.83 908.33,328.96"/>
<polygon fill="#ffffe5" points="910.42,340.42 920.83,333.12 929.17,334.17 937.5,340.42 943.75,342.5 950,342.5 950,363.33 939.58,363.33 933.33,357.08 925,352.92 916.67,348.75"/>
<polygon fill="#fff8c1" points="970,183.75 982.5,182.5 987.5,190 995,195 1000,205 1035,200 1085,200 1160,190 1160,405 920,405 920,277.5 921.25,265 917.5,252.5 912.5,242.5 920,245 927.5,242.5 935,232.5 940,230 947.5,227.5 946.25,223.75 940,225 935,227.5 931.25,221.25 926.25,215 932.5,207.5 942.5,200 952.5,193.75 960,192.5 962.5,198.75 967.5,185"/>
<polygon fill="#fece65" points="905,106.25 913.75,98.75 910,92.5 925,86.25 935,85 947.5,85 960,88.75 972.5,91.25 985,95 992.5,103.75 998.75,112.5 1002.5,122.5 1008.75,132.5 1010,140 996.25,140 990,138.75 985,132.5 977.5,127.5 972.5,126.25 967.5,131.25 960,132.5 947.5,131.25 937.5,133.75 932.5,126.25 930,117.5 925,110 917.5,108.75 912.5,112.5"/>
<polygon fill="#fee79b" points="990,138.75 996.25,140 1010,140 1016.25,148.75 1020,160 1023.75,166.25 1030,166.25 1038.75,166.25 1047.5,170 1050,180 1045,187.5 1040,192.5 1032.5,195 1027.5,200 1020,201.25 1010,202.5 1000,205 995,195 987.5,190 982.5,182.5 970,183.75 970,177.5 976.25,175 975,165 977.5,155 982.5,147.5 987.5,142.5"/>
<polygon fill="#d8d8d8" points="1047.5,171.25 1057.5,172.5 1065,177.5 1075,182.5 1076.25,192.5 1067.5,193.75 1060,196.25 1057.5,200 1058.75,215 1053.75,226.25 1045,230 1040,231.25 1032.5,227.5 1025,228.75 1020,223.75 1027.5,220 1033.75,213.75 1030,207.5 1027.5,200 1032.5,195 1040,192.5 1045,187.5 1050,180"/>
<polygon fill="#ffffe5" points="875,212.5 885,208.75 892.5,211.25 900,217.5 910,216.25 925,215 932.5,225 937.5,230 935,240 925,245 912.5,242.5 917.5,252.5 921.25,265 920,277.5 912.5,272.5 905,265 897.5,257.5 887.5,252.5 877.5,250 880,240 880,230 878.75,220"/>
<polygon fill="#ffffe5" points="975,222.5 980,216.25 995,215 1002.5,207.5 1015,205 1022.5,201.25 1030,207.5 1033.75,213.75 1027.5,220 1020,223.75 1010,228.75 1002.5,232.5 996.25,242.5 990,250 982.5,247.5 977.5,240 970,237.5 975,230"/>
<polygon fill="#ffffe5" points="1075,202.5 1082.5,205 1092.5,205 1105,203.75 1120,197.5 1132.5,193.75 1145,191.25 1155,190 1147.5,198.75 1143.75,207.5 1132.5,210 1122.5,212.5 1115,220 1105,221.25 1095,223.75 1085,221.25 1075,223.75 1067.5,227.5 1060,225 1058.75,215 1057.5,200 1067.5,193.75 1076.25,192.5"/>
<polygon fill="#ffffe5" points="1060,226.25 1072.5,225 1080,230 1087.5,237.5 1082.5,242.5 1072.5,240 1065,235"/>
<polygon fill="#fee79b" points="1075,223.75 1085,221.25 1095,223.75 1105,221.25 1115,220 1122.5,212.5 1132.5,210 1143.75,207.5 1145,215 1140,220 1137.5,230 1122.5,230 1115,235 1105,242.5 1095,245 1085,242.5 1077.5,250 1070,247.5 1063.75,242.5 1072.5,240 1082.5,242.5 1087.5,237.5 1080,230"/>
<polygon fill="#fece65" points="1137.5,230 1133.75,235 1127.5,245 1120,252.5 1117.5,263.75 1106.25,260 1095,257.5 1086.25,263.75 1080,267.5 1072.5,261.25 1068.75,257.5 1072.5,252.5 1077.5,250 1085,242.5 1095,245 1105,242.5 1115,235 1122.5,230"/>
<polygon fill="#fee79b" points="945,285 952.5,287.5 962.5,287.5 970,292.5 977.5,290 987.5,285 997.5,277.5 1007.5,272.5 1015,275 1020,282.5 1022.5,292.5 1017.5,300 1020,307.5 1025,315 1030,330 1000,330 995,308.75 985,307.5 980,300 970,298.75 965,295 957.5,297.5 947.5,292.5"/>
<polygon fill="#d8d8d8" points="968.75,301.25 975,298.75 982.5,301.25 985,307.5 980,315 975,312.5"/>
<polygon fill="#fece65" points="980,315 985,307.5 995,308.75 1001.25,310 1000,320 992.5,340 985,345 977.5,330"/>
<polygon fill="#fff8c1" points="868.33,350.83 876.67,348.75 887.08,342.5 893.33,340.42 901.67,346.67 910,340.42 920.42,334.17 920.42,388.33 880.83,388.33 878.75,363.33 874.58,357.08"/>
<polygon fill="#fee79b" points="860,275.83 942.29,275.83 943.33,292.5 949.58,294.58 949.58,311.25 946.46,321.67 949.58,330 945.42,346.67 939.17,348.75 932.92,340.42 928.75,333.12 920.42,334.17 910,340.42 901.67,346.67 893.33,340.42 887.08,342.5 876.67,348.75 868.33,350.83 864.17,344.58 860,342.5"/>
<polygon fill="#fff8c1" points="899.58,321.67 912.08,317.5 922.5,313.33 932.92,313.33 930.83,319.58 922.5,321.67 914.17,326.88 905.83,328.96 901.67,325.83"/>
<polygon fill="#ffffe5" points="872.5,350.83 880.83,344.58 891.25,340.42 899.58,342.5 901.67,346.67 895.42,352.92 891.25,361.25 878.75,363.33 874.58,357.08"/>
<polygon fill="#ffffe5" points="920.42,334.17 928.75,333.12 932.92,340.42 939.17,348.75 947.5,350.83 948.54,359.17 943.33,363.33 937.08,361.25 932.92,352.92 926.67,346.67 922.5,340.42"/>
<polygon fill="#d8d8d8" points="969.38,300.83 976.67,298.33 985,301.88 986.04,307.08 980.83,314.38 975.62,315.42 972.5,309.17"/>
<polygon fill="#fee79b" points="985,301.88 989.17,292.5 987.08,286.25 993.33,275.83 1020.42,275.83 1022.5,288.33 1020.42,296.67 1024.58,305 1026.67,313.33 1024.58,321.67 1028.75,330 1032.92,331.04 1030.83,337.29 1020.42,336.25 1010,335.21 1007.92,331.04 1001.67,332.08 995.42,338.33 997.5,336.25 995.42,332.08 993.33,323.75 997.5,319.58 1001.67,311.25 993.33,309.17 986.04,307.08"/>
<polygon fill="#fece65" points="980.83,314.38 986.04,307.08 993.33,309.17 1001.67,311.25 997.5,319.58 993.33,323.75 995.42,332.08 997.5,336.25 991.25,343.54 985,347.71 981.88,336.25 978.75,327.92 980.83,321.67"/>
<polygon fill="#ffffe5" points="913.12,415.42 922.5,414.38 931.88,416.46 929.79,425.83 920.42,425.83 914.58,423.75"/>
<polygon fill="#ffffe5" points="851.67,425.83 872.5,427.92 880.83,438.33 885,444.58 878.75,452.92 872.5,461.25 866.25,465.42 851.67,465.42"/>
<polygon fill="#fee79b" points="729.58,469.17 731.04,467.5 737.5,462.92 750,462.08 760,457.08 767.08,451.04 768.96,439.58 782.92,441.46 797.92,443.54 799.38,450.42 802.5,448.33 810.83,446.25 802.5,452.5 796.25,458.75 788.96,466.04 794.17,469.17 800.42,472.29 808.75,474.38 816.04,470.21 813.96,477.5 819.17,481.67 820.21,487.92 812.92,490 806.67,484.79 802.5,486.88 802.5,492.08 798.33,496.25 796.25,502.5 790,506.67 795.21,510.83 802.5,515 808.75,517.08 807.71,523.33 808.75,531.67 800.42,535.83 794.17,537.92 781.67,533.75 771.25,529.58 769.17,522.29 760.83,519.17 752.5,520.21 740,519.17 729.58,519.17"/>
<polygon fill="#fece65" points="742.08,490 748.33,481.67 756.67,479.58 762.92,485.83 767.08,494.17 766.04,502.5 760.83,500.42 754.58,496.25 746.25,494.17"/>
<polygon fill="#fece65" points="788.96,466.04 796.25,458.75 802.5,452.5 809.79,450.42 812.92,458.75 811.88,467.08 816.04,470.21 808.75,474.38 800.42,472.29 794.17,469.17"/>
<polygon fill="#fff8c1" points="773.33,446.25 781.67,444.17 785.83,450.42 781.67,455.62 775.42,454.58"/>
<polygon fill="#fff8c1" points="767.08,488.96 773.33,486.88 778.54,492.08 776.46,498.33 770.21,497.29"/>
<polygon fill="#f68720" points="740,462.92 749.38,462.5 750.42,466.04 744.17,467.5 740,466.67"/>
<polygon fill="#ffffe5" points="816.04,470.21 819.17,469.17 823.33,468.12 828.54,471.25 829.58,476.46 837.92,475.42 844.17,473.33 850.42,478.54 854.58,476.46 859.79,471.25 865,466.04 868.12,471.25 873.33,473.33 927.5,473.33 927.5,556.67 904.58,556.67 896.25,548.33 890,552.5 883.75,549.38 876.46,546.25 873.33,544.17 861.88,542.08 860.83,535.83 856.67,532.71 853.54,527.5 856.67,521.25 858.75,516.04 865,518.12 868.12,515 866.04,510.83 860.83,509.79 857.71,512.92 852.5,511.88 849.38,504.58 846.25,500.42 848.33,494.17 842.08,492.08 840,487.92 833.75,485.83 827.5,484.79 823.33,478.54 818.12,475.42"/>
<polygon fill="#fff8c1" points="856.67,521.25 862.92,523.33 865,531.67 862.92,542.08 861.88,542.08 860.83,535.83 856.67,532.71 853.54,527.5"/>
<polygon fill="#ffffe5" points="844.17,442.08 856.67,440 869.17,444.17 875.42,452.5 869.17,462.92 860.83,467.08 852.5,462.92 846.25,452.5"/>
<polygon fill="#fff8c1" points="790,506.67 796.25,502.5 798.33,496.25 802.5,492.08 802.5,486.88 806.67,484.79 812.92,490 820.21,487.92 819.17,481.67 818.12,475.42 823.33,478.54 827.5,484.79 833.75,485.83 840,487.92 842.08,492.08 848.33,494.17 846.25,500.42 849.38,504.58 852.5,511.88 857.71,512.92 856.67,521.25 853.54,527.5 848.33,531.67 840,527.5 831.67,523.33 823.33,519.17 815,521.25 808.75,517.08 802.5,515 795.21,510.83"/>
<polygon fill="#ffffe5" points="808.75,517.08 815,521.25 823.33,519.17 831.67,523.33 840,527.5 848.33,531.67 853.54,527.5 856.67,532.71 860.83,535.83 861.88,542.08 857.71,544.17 852.5,538.96 844.17,537.92 837.92,542.08 829.58,548.33 829.58,556.67 825.42,565 825.42,569.17 821.25,573.33 810.83,572.29 811.88,565 808.75,556.67 806.67,548.33 810.83,544.17 800.42,535.83 808.75,531.67 807.71,523.33"/>
<polygon fill="#fee79b" points="817.08,508.75 823.33,506.67 829.58,510.83 831.67,519.17 827.5,525.42 823.33,529.58 820.21,523.33 819.17,515"/>
<polygon fill="#d8d8d8" points="819.17,490 824.38,484.79 827.5,490 826.46,498.33 823.33,500.42"/>
<polygon fill="#d8d8d8" points="825.42,565 829.58,556.67 829.58,548.33 837.92,542.08 844.17,537.92 852.5,538.96 857.71,544.17 852.5,550.42 846.25,556.67 850.42,562.92 856.67,569.17 862.92,567.08 860.83,573.33 853.54,579.58 846.25,578.54 840,575.42 831.67,571.25 826.46,573.33 823.33,576.46 821.25,573.33 825.42,569.17"/>
<polygon fill="#fff8c1" points="846.25,556.67 852.5,550.42 857.71,544.17 861.88,542.08 873.33,544.17 875.42,548.33 870.21,554.58 869.17,560.83 862.92,562.92 859.79,568.12 856.67,569.17 850.42,562.92"/>
<polygon fill="#d8d8d8" points="848.33,583.75 853.54,579.58 860.83,583.75 869.17,582.71 877.5,575.42 883.75,577.5 890,581.67 895.21,585.83 894.17,594.17 888.96,600.42 887.92,608.75 881.67,612.92 875.42,615 871.25,619.17 865,620.21 861.88,615 859.79,606.67 854.58,604.58 853.54,596.25 849.38,590"/>
<polygon fill="#fff8c1" points="881.67,569.17 890,562.92 898.33,565 902.5,573.33 900.42,581.67 894.17,583.75 885.83,577.5"/>
<polygon fill="#d8d8d8" points="731.67,537.92 746.25,535.83 752.5,529.58 756.67,522.29 767.08,521.25 770.21,529.58 774.38,535.83 771.25,542.08 763.96,544.17 762.92,552.5 760.83,558.75 755.62,562.92 760.83,565 771.25,562.92 781.67,569.17 787.92,573.33 790,577.5 781.67,581.67 771.25,585.83 767.08,579.58 765,573.33 758.75,575.42 754.58,577.5 750.42,573.33 731.67,575.42"/>
<polygon fill="#d8d8d8" points="783.75,556.67 788.96,555.62 792.08,561.88 786.88,565 783.75,562.92"/>
<polygon fill="#fff8c1" points="773.33,585.83 781.67,581.67 790,577.5 800.42,573.33 810.83,572.29 819.17,571.25 823.33,576.46 826.46,573.33 831.67,571.25 840,575.42 846.25,578.54 848.33,583.75 846.25,585.83 849.38,590 853.54,596.25 854.58,604.58 848.33,606.67 842.08,610.83 835.83,612.92 829.58,617.08 827.5,625.42 823.33,631.67 820.21,640 820.21,648.33 772.29,648.33 772.29,635.83 771.25,627.5 767.08,621.25 769.17,612.92 774.38,606.67 778.54,600.42 776.46,592.08"/>
<polygon fill="#ffffe5" points="800.42,590 808.75,585.83 819.17,583.75 827.5,585.83 833.75,592.08 829.58,600.42 821.25,604.58 810.83,602.5 802.5,598.33"/>
<polygon fill="#ffffe5" points="771.25,619.17 781.67,617.08 794.17,617.08 802.5,612.92 804.58,621.25 808.75,627.5 812.92,633.75 813.96,648.33 773.33,648.33 772.29,635.83 771.25,627.5"/>
<polygon fill="#fee79b" points="802.5,612.92 808.75,606.67 817.08,603.54 823.33,604.58 825.42,610.83 831.67,612.92 829.58,617.08 827.5,625.42 823.33,631.67 820.21,640 817.08,648.33 813.96,648.33 812.92,633.75 808.75,627.5 804.58,621.25"/>
<polygon fill="#d8d8d8" points="823.33,600.42 829.58,597.29 834.79,600.42 835.83,612.92 831.67,612.92 825.42,610.83 823.33,604.58"/>
<polygon fill="#d8d8d8" points="781.67,610.83 787.92,606.67 795.21,608.75 796.25,613.96 790,617.08 783.75,617.08"/>
<polygon fill="#d8d8d8" points="731.67,615 748.33,617.08 756.67,610.83 760.83,608.75 767.08,612.92 766.04,621.25 769.17,627.5 771.25,635.83 772.29,648.33 731.67,648.33"/>
<polygon fill="#d8d8d8" points="823.33,631.67 831.67,627.5 840,629.58 844.17,635.83 844.17,648.33 820.21,648.33"/>
<polygon fill="#d8d8d8" points="629.58,589.58 775.42,589.58 773.33,608.33 767.08,616.67 767.08,627.08 770.21,637.5 773.33,647.92 773.33,660.42 781.67,664.58 786.88,666.67 783.75,672.92 778.54,677.08 785.83,680.21 794.17,678.12 801.46,679.17 800.42,687.5 800.42,697.92 804.58,704.17 802.5,702.08 798.33,708.33 790,712.5 783.75,717.71 777.5,716.67 775.42,708.33 772.29,700 765,697.92 758.75,701.04 752.5,697.92 748.33,689.58 744.17,683.33 738.96,685.42 733.75,691.67 729.58,700 727.5,708.33 737.92,710.42 744.17,716.67 742.08,725 737.92,731.25 744.17,737.5 742.08,750 710.83,758.33 710.83,768.33 696.25,768.33 692.08,750 629.58,750"/>
<polygon fill="#ffffe5" points="692.08,589.58 723.33,589.58 723.33,606.25 715,610.42 708.75,616.67 704.58,625 702.5,633.33 702.5,641.67 702.5,648.96 696.25,652.08 693.12,650 694.17,641.67 692.08,633.33 687.92,631.25 681.67,627.08 690,620.83 692.08,610.42"/>
<polygon fill="#ffffe5" points="721.25,641.67 727.5,635.42 735.83,633.33 742.08,639.58 744.17,650 744.17,658.33 740,668.75 733.75,673.96 727.5,675 723.33,668.75 720.21,670.83 722.29,662.5 726.46,656.25 725.42,650 724.38,644.79"/>
<polygon fill="#ffffe5" points="679.58,664.58 687.92,660.42 694.17,666.67 698.33,672.92 704.58,679.17 700.42,687.5 692.08,691.67 684.79,687.5 681.67,679.17 682.71,670.83"/>
<polygon fill="#ffffe5" points="655.62,708.33 662.92,702.08 671.25,695.83 677.5,691.67 683.75,700 688.96,708.33 694.17,716.67 690,720.83 681.67,722.92 673.33,727.08 667.08,725 665,716.67 658.75,713.54"/>
<polygon fill="#fff8c1" points="635.83,670.83 644.17,683.33 650.42,691.67 658.75,695.83 662.92,702.08 655.62,708.33 648.33,706.25 635.83,712.5"/>
<polygon fill="#fff8c1" points="635.83,622.92 648.33,620.83 652.5,629.17 648.33,637.5 644.17,643.75 635.83,645.83"/>
<polygon fill="#fff8c1" points="708.75,683.33 711.88,687.5 715,693.75 720.21,697.92 725.42,691.67 731.67,688.54 732.71,693.75 727.5,702.08 726.46,708.33 722.29,716.67 717.08,718.75 713.96,712.5 712.92,704.17 710.83,695.83"/>
<polygon fill="#ffffe5" points="733.75,691.67 738.96,685.42 744.17,683.33 748.33,689.58 752.5,697.92 758.75,701.04 765,697.92 772.29,700 775.42,708.33 777.5,716.67 783.75,717.71 781.67,720.83 773.33,722.92 767.08,725 760.83,733.33 755.62,733.33 750.42,737.5 744.17,737.5 737.92,731.25 742.08,725 744.17,716.67 737.92,710.42 727.5,708.33 729.58,700"/>
<polygon fill="#fee79b" points="756.67,729.17 762.92,722.92 767.08,725 765,731.25 759.79,734.38"/>
<polygon fill="#fee79b" points="772.29,722.92 779.58,720.83 781.67,725 777.5,728.12 773.33,727.5"/>
<polygon fill="#fff8c1" points="790,712.5 798.33,708.33 802.5,702.08 808.75,708.33 812.92,712.5 806.67,715.62 798.33,716.67 793.12,716.67"/>
<polygon fill="#d8d8d8" points="815,704.17 821.25,700 826.46,703.12 821.25,708.33 816.04,709.38"/>
<polygon fill="#ffffe5" points="775.42,612.5 783.75,616.67 794.17,616.67 802.5,618.75 804.58,627.08 812.92,633.33 817.08,639.58 818.12,645.83 812.92,654.17 809.79,662.5 807.71,672.92 805.62,679.17 801.46,679.17 794.17,678.12 785.83,680.21 778.54,677.08 783.75,672.92 786.88,666.67 781.67,664.58 773.33,660.42 773.33,647.92 770.21,637.5 767.08,627.08 767.08,616.67 773.33,608.33"/>
<polygon fill="#fee79b" points="802.5,618.75 806.67,612.5 812.92,606.25 819.17,604.17 827.5,608.33 831.67,614.58 828.54,620.83 823.33,629.17 819.17,635.42 817.08,639.58 812.92,633.33 804.58,627.08"/>
<polygon fill="#d8d8d8" points="782.71,610.42 787.92,607.29 794.17,609.38 795.21,614.58 790,616.67 784.79,615.62"/>
<polygon fill="#ffffe5" points="854.58,605.21 846.25,609.38 837.92,612.5 831.67,614.58 828.54,620.83 823.33,629.17 819.17,635.42 817.08,639.58 818.12,645.83 812.92,654.17 809.79,662.5 807.71,672.92 805.62,679.17 806.67,673.96 815,677.08 823.33,680.21 826.46,687.5 828.54,695.83 831.67,700 910.83,700 910.83,605.21"/>
<polygon fill="#d8d8d8" points="820.21,637.5 827.5,631.25 833.75,629.17 840,633.33 844.17,637.5 850.42,641.67 854.58,647.92 850.42,652.08 844.17,654.17 837.92,658.33 831.67,654.17 825.42,650 821.25,645.83"/>
<polygon fill="#fff8c1" points="827.5,677.08 833.75,668.75 840,664.58 846.25,660.42 848.33,654.17 854.58,652.08 860.83,656.25 863.96,662.5 860.83,668.75 854.58,672.92 848.33,679.17 846.25,683.33 840,691.67 833.75,698.96 828.54,695.83 826.46,687.5"/>
<polygon fill="#d8d8d8" points="854.58,658.33 860.83,655.21 867.08,658.33 866.04,664.58 858.75,666.67 855.62,662.5"/>
<polygon fill="#d8d8d8" points="854.58,595.83 890,595.83 890,614.58 881.67,618.75 875.42,616.67 869.17,619.79 862.92,618.75 859.79,612.5 856.67,606.25"/>
<polygon fill="#fff8c1" points="490.83,606.04 497.08,598.75 498.12,592.5 502.29,589.38 504.38,580 504.38,589.38 507.5,600.83 511.67,602.92 516.88,593.54 522.08,600.83 526.25,609.17 530.42,614.38 535.62,612.29 538.75,618.54 542.92,624.79 548.12,634.17 552.29,642.5 555.42,647.71 561.67,646.67 565.83,643.54 572.08,644.58 576.25,639.38 574.17,632.08 576.25,621.67 582.5,615.42 585.62,607.08 592.92,600.83 595,597.71 601.25,597.71 602.29,607.08 607.5,611.25 613.75,609.17 616.88,614.38 613.75,618.54 603.33,622.71 595,622.71 589.79,627.92 590.83,637.29 598.12,638.33 603.33,636.25 606.46,641.46 603.33,648.75 601.25,657.08 605.42,663.33 608.54,667.5 606.46,673.75 604.38,680 607.5,683.12 615.83,684.17 620,689.38 628.33,689.38 632.5,693.54 632.5,699.79 626.25,702.92 623.12,709.17 623.12,767.5 459.58,767.5 459.58,606.04"/>
<polygon fill="#d8d8d8" points="459.58,600.83 490.83,606.04 497.08,598.75 498.12,592.5 502.29,589.38 504.38,580 504.38,589.38 507.5,600.83 511.67,602.92 516.88,593.54 522.08,600.83 526.25,609.17 530.42,614.38 526.25,621.67 522.08,627.92 516.88,626.88 513.75,619.58 510.62,622.71 513.75,632.08 514.79,637.29 507.5,642.5 504.38,648.75 501.25,655 500.21,648.75 490.83,657.08 459.58,667.5"/>
<polygon fill="#fee79b" points="489.79,662.29 492.92,657.08 500.21,648.75 501.25,655 504.38,648.75 507.5,642.5 514.79,637.29 524.17,637.29 529.38,640.42 532.5,646.67 538.75,648.75 536.67,659.17 535.62,669.58 538.75,677.92 542.92,684.17 549.17,692.5 553.33,700.83 556.46,705 555.42,711.25 557.5,717.5 561.67,721.67 551.25,723.75 542.92,720.62 534.58,721.67 526.25,723.75 521.04,731.04 501.25,734.17 510.62,719.58 513.75,710.21 514.79,707.08 524.17,706.04 526.25,700.83 530.42,692.5 531.46,684.17 526.25,680 525.21,673.75 521.04,671.67 516.88,677.92 508.54,684.17 501.25,688.33 498.12,688.33 499.17,684.17 495,677.92 492.92,667.5"/>
<polygon fill="#d8d8d8" points="474.17,667.5 489.79,662.29 492.92,667.5 495,677.92 499.17,684.17 498.12,688.33 490.83,689.38 474.17,696.67"/>
<polygon fill="#d8d8d8" points="501.25,688.33 508.54,684.17 516.88,677.92 521.04,671.67 525.21,673.75 526.25,680 531.46,684.17 530.42,692.5 526.25,700.83 524.17,706.04 514.79,707.08 509.58,709.17 504.38,705 501.25,696.67 497.08,690.42"/>
<polygon fill="#d8d8d8" points="521.04,731.04 526.25,723.75 534.58,721.67 542.92,720.62 551.25,723.75 551.25,730 554.38,738.33 557.5,752.92 540.83,752.92 524.17,746.67 517.92,736.25"/>
<polygon fill="#fece65" points="556.46,705 561.67,701.88 562.71,692.5 570,691.46 576.25,686.25 578.33,680 586.67,677.92 593.96,676.88 592.92,683.12 588.75,688.33 587.71,696.67 591.88,702.92 592.92,711.25 593.96,723.75 587.71,720.62 583.54,721.67 578.33,722.71 574.17,725.83 566.88,721.67 561.67,721.67 557.5,717.5 555.42,711.25"/>
<polygon fill="#fee79b" points="564.79,650.83 574.17,646.67 582.5,648.75 584.58,659.17 582.5,667.5 586.67,677.92 578.33,680 574.17,675.83 572.08,682.08 563.75,680 564.79,669.58 563.75,659.17"/>
<polygon fill="#fece65" points="543.96,626.88 553.33,624.79 561.67,626.88 561.67,632.08 558.54,637.29 556.46,644.58 552.29,642.5 548.12,634.17"/>
<polygon fill="#d8d8d8" points="610.62,657.08 611.67,648.75 615.83,647.71 622.08,652.92 628.33,657.08 632.5,662.29 636.67,659.17 634.58,652.92 635.62,646.67 640.83,642.5 647.08,638.33 652.29,632.08 651.25,624.79 657.5,621.67 665.83,625.83 670,617.5 665.83,609.17 670,598.75 674.17,596.67 678.33,600.83 684.58,602.92 688.75,598.75 693.96,621.67 692.92,632.08 695,642.5 697.08,650.83 693.96,652.92 686.67,655 682.5,659.17 676.25,661.25 670,663.33 664.79,667.5 657.5,665.42 653.33,660.21 649.17,661.25 642.92,667.5 636.67,671.67 630.42,676.88 622.08,672.71 613.75,674.79 605.42,677.92 606.46,673.75 608.54,667.5"/>
<polygon fill="#fff8c1" points="589.79,627.92 595,622.71 603.33,622.71 613.75,618.54 616.88,614.38 624.17,615.42 632.5,614.38 636.67,619.58 642.92,621.67 651.25,624.79 652.29,632.08 647.08,638.33 640.83,642.5 635.62,646.67 634.58,652.92 636.67,659.17 632.5,662.29 628.33,657.08 622.08,652.92 615.83,647.71 611.67,648.75 610.62,657.08 608.54,667.5 605.42,663.33 601.25,657.08 603.33,648.75 606.46,641.46 603.33,636.25 598.12,638.33 590.83,637.29"/>
<polygon fill="#ffffe5" points="624.17,598.75 630.42,595.62 638.75,596.67 642.92,592.5 651.25,590.42 657.5,586.25 663.75,588.33 670,590.42 674.17,596.67 670,598.75 665.83,609.17 670,617.5 665.83,625.83 657.5,621.67 651.25,624.79 642.92,621.67 636.67,619.58 632.5,614.38 636.67,611.25 634.58,605 626.25,602.92"/>
<polygon fill="#d8d8d8" points="616.88,586.25 624.17,582.08 628.33,588.33 634.58,594.58 630.42,595.62 624.17,598.75 626.25,602.92 634.58,605 636.67,611.25 632.5,614.38 624.17,615.42 616.88,614.38 613.75,609.17 615.83,600.83"/>
<polygon fill="#fff8c1" points="604.38,680 605.42,677.92 613.75,674.79 622.08,672.71 630.42,676.88 636.67,671.67 642.92,667.5 645,677.92 647.08,686.25 653.33,692.5 661.67,698.75 659.58,705 651.25,707.08 645,713.33 643.96,715.42 634.58,711.25 623.12,709.17 626.25,702.92 632.5,699.79 632.5,693.54 628.33,689.38 620,689.38 615.83,684.17 607.5,683.12"/>
<polygon fill="#ffffe5" points="688.75,585.62 690.62,580 693.75,576.25 698.75,573.75 705,573.12 711.25,571.25 712.5,568.12 716.25,566.25 722.5,568.12 728.75,570.62 733.75,571.25 738.75,573.12 743.12,576.88 747.5,577.5 752.5,574.38 756.25,575 758.75,580 762.5,576.25 766.25,573.12 768.75,577.5 767.5,582.5 770,587.5 773.75,587.5 776.25,592.5 777.5,597.5 778.12,602.5 775,606.25 771.25,610 768.75,613.75 766.88,618.75 768.75,622.5 770.62,626.25 771.88,632.5 775,638.75 774.38,645 776.25,647.5 773.75,651.25 773.12,656.25 773.75,662.5 768.75,664.38 763.75,661.88 760,660.62 756.25,663.75 755,668.75 756.25,672.5 752.5,672.5 750,668.75 745,667.5 741.25,670 740,673.75 737.5,676.25 733.75,676.25 730,675 727.5,670 722.5,670.62 720,668.75 721.88,663.75 725,660 725.62,656.25 728.12,653.12 725,650 725,645 720,642.5 715,644.38 711.25,646.25 707.5,651.25 702.5,647.5 698.75,649.38 696.88,652.5 693.12,650 691.88,646.25 691.25,640 690,636.25 693.12,632.5 691.25,628.12 686.25,627.5 681.25,628.75 682.5,625 686.25,621.25 690,616.25 690.62,611.25 689.38,605 690,598.75 689.38,592.5"/>
<polygon fill="#ffffe5" points="707.5,540 737.5,540 737.5,550 738.75,556.25 736.25,561.25 731.25,562.5 727.5,568.12 728.75,570.62 722.5,568.12 716.25,566.25 712.5,568.12 710,568.75 707.5,565 708.75,556.25 710,547.5"/>
<polygon fill="#d8d8d8" points="737.5,536.25 762.5,536.25 763.75,546.25 763.12,552.5 763.75,557.5 756.25,558.75 756.25,563.75 762.5,565 768.75,563.75 773.75,565 780,568.75 785,570 787.5,575 790,578.75 782.5,581.25 777.5,583.12 773.75,587.5 770,587.5 767.5,582.5 768.75,577.5 766.25,573.12 762.5,576.25 758.75,580 756.25,575 752.5,574.38 747.5,577.5 743.12,576.88 738.75,573.12 733.75,571.25 728.75,570.62 727.5,568.12 731.25,562.5 736.25,561.25 738.75,556.25 737.5,550"/>
<polygon fill="#ffffe5" points="763.75,536.25 796.25,536.25 807.5,547.5 806.25,555 811.25,570 800,572.5 790,578.75 787.5,575 785,570 780,568.75 773.75,565 768.75,563.75 762.5,565 756.25,563.75 756.25,558.75 763.75,557.5 763.12,552.5 763.75,546.25"/>
<polygon fill="#d8d8d8" points="784.38,558.75 787.5,556.88 791.88,560 791.25,564.38 786.88,565.62 784,563.12"/>
<polygon fill="#fff8c1" points="673.75,558.75 678.75,556.25 686.25,555 693.75,553.75 702.5,551.25 706.25,545 707.5,540 711.25,540 710,547.5 708.75,556.25 707.5,565 710,568.75 712.5,568.12 711.25,571.25 705,573.12 698.75,573.75 693.75,576.25 690.62,580 688.75,585.62 686.25,582.5 682.5,577.5 677.5,573.75 675,570 676.25,565"/>
<polygon fill="#d8d8d8" points="688.75,585.62 690.62,580 693.75,576.25 698.75,573.75 705,573.12 711.25,575 717.5,575.62 723.75,577.5 725,580 720,585 716.25,590 710,591.25 706.25,596.25 703.75,602.5 701.25,607.5 696.25,611.25 693.12,615 690,616.25 690.62,611.25 689.38,605 690,598.75 689.38,592.5"/>
<polygon fill="#d8d8d8" points="703.75,627.5 707.5,625 713.75,620 716.25,613.75 721.25,608.12 726.25,605.62 732.5,607.5 737.5,610.62 740,615 745,617.5 751.25,621.25 756.25,616.25 757.5,611.25 762.5,610 768.75,613.75 766.88,618.75 768.75,622.5 770.62,626.25 771.88,632.5 775,638.75 774.38,645 776.25,647.5 773.75,651.25 773.12,656.25 773.75,662.5 768.75,664.38 763.75,661.88 760,660.62 756.25,663.75 753.75,665 750,667.5 746.25,665 745,657.5 743.75,651.25 741.25,643.75 740,637.5 735,633.75 728.75,632.5 725,636.25 722.5,640 720,642.5 715,644.38 711.25,646.25 707.5,651.25 702.5,647.5 700,641.25 701.25,635"/>
<polygon fill="#d8d8d8" points="667.5,560 673.75,558.75 676.25,565 675,570 677.5,573.75 682.5,577.5 686.25,582.5 688.75,585.62 689.38,592.5 690,598.75 689.38,605 690.62,611.25 690,616.25 686.25,621.25 682.5,625 681.25,628.75 686.25,627.5 691.25,628.12 693.12,632.5 690,636.25 691.25,640 691.88,646.25 693.12,650 696.88,652.5 693.75,655 686.25,655 682.5,658.75 677.5,661.25 670,660 667.5,660"/>
<polygon fill="#d8d8d8" points="696.88,652.5 698.75,649.38 702.5,647.5 707.5,651.25 711.25,646.25 715,644.38 720,642.5 725,645 725,650 728.12,653.12 725.62,656.25 725,660 721.88,663.75 720,668.75 722.5,670.62 727.5,670 730,675 733.75,676.25 737.5,676.25 737.5,690 702.5,690 705,682.5 702.5,677.5 697.5,675 695,667.5 696.25,660"/>
<polygon fill="#ffffe5" points="677.5,665 682.5,658.75 686.25,655 693.75,655 696.88,652.5 696.25,660 695,667.5 697.5,675 702.5,677.5 705,682.5 702.5,687.5 695,690 682.5,690 681.25,677.5"/>
<polygon fill="#fff8c1" points="773.75,587.5 777.5,583.12 782.5,581.25 790,578.75 800,572.5 811.25,570 820,571.25 820,587.5 807.5,586.25 800,590 800.62,597.5 805,602.5 813.75,603.75 811.25,607.5 805,611.25 802.5,617.5 795,615 782.5,610 776.25,615 771.25,610 775,606.25 778.12,602.5 777.5,597.5 776.25,592.5"/>
<polygon fill="#ffffe5" points="800.62,590 807.5,586.25 820,587.5 820,600 813.75,603.75 805,602.5 800.62,597.5"/>
<polygon fill="#d8d8d8" points="782.5,610 786.25,607.5 792.5,608.12 796.25,611.25 793.75,615 787.5,617.5 783.75,615"/>
<polygon fill="#fee79b" points="802.5,617.5 805,611.25 811.25,607.5 820,605 820,640 813.75,638.75 811.25,632.5 806.25,627.5 803.75,622.5"/>
<polygon fill="#fff8c1" points="880,650 930,650 930,745 880,745"/>
<polygon fill="#fee79b" points="785,125 880,125 880,215 785,215"/>
<polygon fill="#d8d8d8" points="676.67,464.58 681.88,458.33 688.12,455.21 692.29,458.33 690.21,464.58 683.96,468.75 678.75,468.75"/>
<polygon fill="#fece65" points="790,322 800,325 810,327.5 815,342.5 810,355 800,365 790,372.5"/>
<polygon fill="#d8d8d8" points="495,592 503,589.5 507,588.5 508.5,601 495,601"/>
<polygon fill="#fece65" points="949.5,151.25 955,148.75 960.5,150.5 959.5,154.5 952.5,155.5"/>
<polygon fill="#fff8c1" points="720.83,502.5 723.33,490 733.33,495 746.67,498.33 758.33,501.67 760.83,511.67 770,515.83 780,520 788.33,515 800,514.17 809.17,515.83 809.17,530 800,537.5 793.33,537.5 783.33,533.33 771.67,528.33 768.33,520.83 758.33,520 743.33,520.83 733.33,515.83 725,508.33"/>
</g>
<g fill="none" stroke="#565a5e" stroke-width="1.15" stroke-linejoin="round">
<polyline points="905,106.25 912.5,112.5 917.5,108.75 925,110 930,117.5 932.5,126.25 937.5,133.75 947.5,131.25 960,132.5 967.5,131.25 972.5,126.25 977.5,127.5 985,132.5 990,138.75 987.5,142.5 982.5,147.5 977.5,155 975,165 976.25,175 970,177.5 967.5,185 962.5,198.75 960,192.5 952.5,193.75 942.5,200 932.5,207.5 926.25,215 931.25,221.25 935,227.5 940,225 946.25,223.75 947.5,227.5 940,230 935,232.5 937.5,237.5 947.5,236.25 953.75,237.5 955,246.25 960,252.5 970,253.75 980,252.5 987.5,257.5 995,258.75 1002.5,257.5 1008.75,262.5 1010,270 1015,271.25 1020,277.5 1025,280 1030,273.75 1035,277.5 1038.75,286.25 1042.5,292.5 1050,287.5 1060,283.75 1067.5,282.5 1068.75,288.75 1077.5,292.5 1083.75,295"/>
<polyline points="935,232.5 927.5,242.5 920,245 912.5,242.5 917.5,252.5 921.25,265 920,277.5 930,276.25 937.5,272.5 942.5,282.5 943.75,292.5 947.5,295"/>
<polyline points="688.75,585.62 690.62,580 693.75,576.25 698.75,573.75 705,573.12 711.25,571.25 712.5,568.12 716.25,566.25 722.5,568.12 728.75,570.62 733.75,571.25 738.75,573.12 743.12,576.88 747.5,577.5 752.5,574.38 756.25,575 758.75,580 762.5,576.25 766.25,573.12 768.75,577.5 767.5,582.5 770,587.5 773.75,587.5 776.25,592.5 777.5,597.5 778.12,602.5 775,606.25 771.25,610 768.75,613.75 766.88,618.75 768.75,622.5 770.62,626.25 771.88,632.5 775,638.75 774.38,645 776.25,647.5 773.75,651.25 773.12,656.25 773.75,662.5 768.75,664.38 763.75,661.88 760,660.62 756.25,663.75 755,668.75 756.25,672.5 752.5,672.5 750,668.75 745,667.5 741.25,670 740,673.75 737.5,676.25 733.75,676.25 730,675 727.5,670 722.5,670.62 720,668.75 721.88,663.75 725,660 725.62,656.25 728.12,653.12 725,650 725,645 720,642.5 715,644.38 711.25,646.25 707.5,651.25 702.5,647.5 698.75,649.38 696.88,652.5 693.12,650 691.88,646.25 691.25,640 690,636.25 693.12,632.5 691.25,628.12 686.25,627.5 681.25,628.75 682.5,625 686.25,621.25 690,616.25 690.62,611.25 689.38,605 690,598.75 689.38,592.5 688.75,585.62"/>
<polyline points="145,479.5 160,477.5 166.25,462.5 172.5,458.75 190,461.25 200,458.75 207.5,453.75 215,453.75 222.5,458.75 237.5,457.5 251.25,451.25 260,451.25 270,446.25 273.75,445 295,437.5 317.5,437.5 332.5,442.5 338.75,446.25 340,443.75 355,442.5 362.5,443.75 361.25,436.25 356.25,428.75 366.25,425 363.75,416.25 355,407.5 352.5,400"/>
<polyline points="352.92,401.46 348.75,400.42 345.62,396.25 357.08,393.12 367.5,390 378.96,386.88 386.25,383.75 389.38,376.46 392.5,369.17 394.58,360.83 396.67,353.54 410.21,351.46 411.25,346.25 415.42,341.04 421.67,335.83 430,331.67 435.21,329.58 440.42,331.67 446.67,326.46 452.92,324.38 451.88,320.21 453.96,318.12 452.92,312.92 457.08,307.71"/>
<polyline points="386.25,383.75 396.67,381.67 399.79,384.79 410.21,386.88 413.33,390 421.67,391.04 424.79,397.29 432.08,396.25 443.54,398.33 449.79,397.29 455,402.08 463.33,399.38 467.5,393.12 468.54,385.83 469.58,381.67 475.83,382.71 484.17,385.83 489.38,388.96 496.67,383.75 502.92,383.75 507.08,388.96 513.33,394.17 521.67,395.21 527.92,400.42 538.33,404.58 546.67,408.75 557.08,413.96 567.5,421.25"/>
<polyline points="567.5,421.88 571.67,431.25 574.79,439.58 577.92,441.67 572.71,447.92 567.5,455.21 563.33,462.5 558.12,468.75 559.17,475 562.29,480.21 559.17,483.33 550.83,482.29 540.42,480.21 538.33,482.29 542.5,487.5 546.67,491.67 551.88,494.79 553.96,497.92"/>
<polyline points="333.12,446.88 339.38,452.08 336.25,460.42 335.21,466.67 340.42,471.88 340.42,483.33 337.29,486.46 345.62,495.83 352.92,502.08 361.25,505.21 369.58,506.25 380,511.46 390.42,512.5 398.75,513.54 409.17,516.67 417.5,517.71 426.88,514.58 434.17,519.79 438.33,522.92 441.46,530.21 446.67,532.29 451.88,530.21 455,534.38 459.17,530.21 465.42,532.29 467.5,527.08 473.75,525 474.79,518.75 477.92,516.67"/>
<polyline points="508.12,600 507.08,587.5 505,579.17 506.04,568.75 503.96,560.42 502.92,550 499.79,543.75 501.88,539.58 497.71,535.42 494.58,529.17 490.42,520.83 485.21,517.71 477.92,516.67 475.83,510.42 478.96,504.17 481.04,498.96 477.92,493.75 476.88,488.54 482.08,483.33 488.33,485.42 494.58,484.38 496.67,491.67 500.83,497.92 506.04,504.17 511.25,507.29 515.42,510.42 520.62,508.33 525.83,513.54 532.08,514.58 538.33,513.54 543.54,514.58 545.62,510.42 544.58,504.17 550.83,502.08 553.96,497.92"/>
<polyline points="553.33,497.29 556.46,502.5 563.75,499.38 564.79,494.17 562.71,487.92 570,484.79 576.25,482.71 580.42,488.96 586.67,491.04 592.92,492.08 599.17,497.29 602.29,502.5 600.21,507.71 603.33,511.88 609.58,513.96 617.92,512.92 622.08,509.79 628.33,509.79 633.54,512.92 641.88,513.96 647.08,512.92 653.33,518.12 658.54,519.17 663.75,523.33 670,523.33 675.21,522.29 673.12,527.5 676.25,533.75 672.08,540 668.96,544.17 665.83,550.42 661.67,554.58 657.5,559.79 653.33,565 649.17,568.12 642.92,567.08 638.75,562.92 632.5,563.96 628.33,560.83 625.21,563.96 624.17,570.21 622.08,575.42 617.92,577.5 621.04,583.75 625.21,585.83 628.33,591.04 636.67,595.21 639.79,598.33 642.92,594.17 649.17,593.12 654.38,590 657.5,584.79 663.75,586.88 670,585.83 673.12,591.04 676.25,597.29 680.42,601.46 684.58,604.58 687.71,600.42 689.79,594.17 688.75,585.83 689.79,583.75 695,576.46 701.25,573.33 707.5,573.33 711.67,569.17 708.54,562.92 709.58,553.54 704.38,550.42 705.42,546.25 703.33,537.92 695,532.71 686.67,527.5 680.42,525.42 675.21,522.29"/>
<polyline points="472.71,307.71 478.96,320.21 484.17,330.62 480,333.75 485.21,337.92 492.5,345.21 493.54,352.5 498.75,350.42 502.92,350.42 508.12,348.33 516.46,345.83 523.75,346.25 526.88,349.38 525.83,356.67 517.5,365 513.33,367.08 521.67,369.17 530,375.42 537.29,377.5 538.33,383.75 543.54,385.83 546.67,388.96 553.96,392.08 558.12,385.83 556.04,382.71 565.42,380.62 580,381.67"/>
<polyline points="560,380.21 566.25,381.25 576.67,382.29 582.92,378.12 589.17,376.04 595.42,376.04 598.54,383.33 594.38,389.58 585,396.88 582.92,406.25 587.08,410.42 595.42,415.62 601.67,416.67 605.83,415.62 614.17,412.5 622.5,410.42 628.75,404.17 626.67,400 627.71,391.67 631.88,383.33 635,379.17 644.38,377.5 647.5,383.33 644.38,389.58 641.25,395.83 640.21,398.96 649.58,403.12 657.92,406.25 661.04,408.33 653.75,416.67 653.75,422.92 657.92,427.08 668.33,431.25 676.67,435.42 678.75,441.67 676.67,447.92 674.58,454.17 676.67,461.46 664.17,462.5 662.08,467.71 651.67,468.75 647.5,464.58 639.17,464.58 638.12,461.46 633.96,458.33 628.75,455.21 622.5,451.04 619.38,446.88 620.42,441.67 617.29,435.42 615.21,429.17 612.08,423.96 606.88,419.79 605.83,415.62"/>
<polyline points="661.04,408.33 668.33,412.5 679.79,411.46 681.88,406.25 686.04,404.17 685,397.92 689.17,393.75 695.42,387.5 701.67,382.29 705.83,379.17 714.17,378.12 723.54,375 730.83,371.88 737.08,371.88 743.33,360.42 751.67,358.33 760,356.25"/>
<polyline points="723.54,375 721.46,383.33 718.33,391.67 713.12,398.96 712.08,406.25 715.21,412.5 714.17,418.75 710,425 708.96,435.42 710,445.83 713.12,454.17 710,462.5 706.88,468.75 707.92,475"/>
<polyline points="639.38,464.58 639.79,467.08 637.71,476.46 640.83,481.67 639.79,488.96 639.79,495.21 633.54,496.25 628.33,499.38 629.38,506.67 628.33,509.79"/>
<polyline points="707.5,475.42 710.62,481.67 713.75,487.92 718.96,495.21 720,502.5 707.5,503.54 695,503.54 699.17,508.75 704.38,511.88 703.33,516.04 693.96,517.08 695,525.42 695,532.71"/>
<polyline points="720,502.5 721.04,502.5 728.33,510.83 736.67,517.08 745,521.25 755.42,520.21"/>
<polyline points="740,519.17 752.5,520.21 760.83,519.17 769.17,522.29 771.25,529.58 781.67,533.75 794.17,537.92 800.42,535.83 808.75,531.67 807.71,523.33 808.75,517.08 802.5,515 795.21,510.83 790,506.67 796.25,502.5 798.33,496.25 802.5,492.08 802.5,486.88 806.67,484.79 812.92,490 820.21,487.92 819.17,481.67 813.96,477.5 816.04,470.21 808.75,474.38 800.42,472.29 794.17,469.17 788.96,466.04 796.25,458.75 802.5,452.5 810.83,446.25 802.5,448.33 799.38,450.42 797.92,443.54 782.92,441.46 768.96,439.58"/>
<polyline points="760,357.5 766.67,355.83 774.17,353.33 776.67,350 774.17,344.17 771.67,340.83 774.17,336.67 772.5,333.33 777.5,330 779.17,325 784.17,320.83 789.17,321.67 790.83,328.33 795.83,331.67 801.67,329.17 808.33,325.83 815,324.17 820,322.5 825,320 826.67,315.83 833.33,314.17 836.67,310.83 843.33,311.67 846.67,316.67 850.83,321.67 851.67,325.83 849.17,330 851.67,335 858.33,337.5 864.17,337.5 866.67,339.17 870,333.33 870.83,328.33 868.33,322.5 869.17,318.33 873.33,315.83 878.33,319.17 880.83,324.17 883.33,330 886.67,325.83 891.67,321.67 898.33,318.33 905,315.83 910.83,313.33 915.83,310.83 920,309.17 925,307.5 930,307.5 935,305.83 940,303.33 944.17,302.5 947.5,300 948.33,295.83 945.83,292.5 942.5,291.67 941.67,286.67 943.33,280"/>
<polyline points="866.67,339.17 862.5,344.17 861.67,348.33 866.67,352.5 871.67,354.17 875,358.33 876.67,364.17"/>
<polyline points="800.83,363.33 805,358.33 805.83,353.33 811.67,350.83 817.5,345 821.67,343.33 825,346.67 831.67,350.83 836.67,350.83 833.33,354.17 832.5,357.5 835,360.83 831.67,363.33 826.67,364.17 824.17,366.67 825.83,370.83 823.33,373.33 818.33,375 815,373.33 810,372.5 805,373.33 801.67,370.83 800,366.67 800.83,363.33"/>
<polyline points="832.5,357.5 836.67,361.67 841.67,364.17 838.33,368.33 840,372.5 843.33,375 846.67,380"/>
<polyline points="840,393.33 835.83,394.17 831.67,391.67 825.83,390 823.33,386.67 824.17,381.67 825.83,376.67 824.17,373.33 825.83,370.83"/>
<polyline points="774.17,353.33 776.67,358.33 782.5,358.33 778.33,362.5 774.17,364.17 776.67,366.67 781.67,368.33 780.83,374.17 782.5,378.33 777.5,382.5 771.67,385.83 770,390 765.83,395 767.5,400 771.67,404.17 774.17,409.17 776.67,412.5 773.33,418.33 770.83,423.33 768.33,428.33 765,432.5 766.67,437.5 767.5,440"/>
<polyline points="840,393.33 844.17,398.33 842.5,401.67 838.33,404.17 833.33,407.5 826.67,409.17 821.67,412.5 815.83,415.83 810,421.67 805.83,426.67 801.67,430.83 798.33,435 797.5,440"/>
<polyline points="948.33,295.83 953.33,296.67 960,300"/>
<polyline points="708.33,474.79 720.83,471.67 731.25,467.5 737.5,463.33 750,462.29 760.42,457.08 766.67,450.83 768.75,439.38 783.33,441.46 797.92,443.54 800,448.75 808.33,444.58 812.5,448.75"/>
<polyline points="816.04,470.21 819.17,469.17 823.33,468.12 828.54,471.25 829.58,476.46 837.92,475.42 844.17,473.33 850.42,478.54 854.58,476.46 859.79,471.25 865,466.04 868.12,471.25 873.33,473.33"/>
<polyline points="818.12,475.42 823.33,478.54 827.5,484.79 833.75,485.83 840,487.92 842.08,492.08 848.33,494.17 846.25,500.42 849.38,504.58 852.5,511.88 857.71,512.92 860.83,509.79 866.04,510.83 868.12,515 865,518.12 858.75,516.04 856.67,521.25 853.54,527.5 856.67,532.71 860.83,535.83 861.88,542.08 873.33,544.17 876.46,546.25 883.75,549.38 890,552.5 896.25,548.33 900.42,542.08 904.58,537.92 910.83,533.75 917.08,537.92"/>
<polyline points="900.42,542.08 904.58,550.42 912.92,553.54 917.08,554.58"/>
<polyline points="800.42,535.83 806.67,544.17 811.88,548.33 806.67,554.58 809.79,562.92 811.88,571.25 810.83,572.29 819.17,571.25 823.33,576.46 826.46,573.33 831.67,571.25 840,575.42 846.25,578.54 853.54,579.58 860.83,573.33 862.92,567.08 869.17,560.83 870.21,554.58 875.42,548.33 876.46,546.25"/>
<polyline points="846.25,578.54 848.33,583.75 846.25,585.83 849.38,590 853.54,596.25 854.58,604.58 859.79,606.67 861.88,615 865,620.21 871.25,619.17 875.42,615 881.67,621.25 888.96,624.38 890,627.5"/>
<polyline points="810.83,572.29 800.42,573.33 790,577.5 781.67,581.67 773.33,585.83"/>
<polyline points="773.33,660.42 781.67,664.58 786.88,666.67 783.75,672.92 778.54,677.08 785.83,680.21 794.17,678.12 801.46,679.17 805.62,679.17 806.67,673.96 815,677.08 823.33,680.21 826.46,687.5 828.54,695.83 831.67,700"/>
<polyline points="854.58,605.21 846.25,609.38 837.92,612.5 831.67,614.58 828.54,620.83 823.33,629.17 819.17,635.42 817.08,639.58 818.12,645.83 812.92,654.17 809.79,662.5 807.71,672.92 805.62,679.17"/>
<polyline points="740,683.33 737.92,691.67 732.71,695.83 729.58,700 727.5,708.33 728.54,713.54 723.33,717.71 717.08,720.83 715,727.08 710.83,729.17 708.75,735.42 702.5,737.5 699.38,741.67 698.33,745.83"/>
<polyline points="490.83,606.04 497.08,598.75 498.12,592.5 502.29,589.38 504.38,580"/>
<polyline points="504.38,589.38 507.5,600.83 511.67,602.92 516.88,593.54 522.08,600.83 526.25,609.17 530.42,614.38 535.62,612.29 538.75,618.54 542.92,624.79 548.12,634.17 552.29,642.5 555.42,647.71 561.67,646.67 565.83,643.54 572.08,644.58 576.25,639.38 574.17,632.08 576.25,621.67 582.5,615.42 585.62,607.08 592.92,600.83 595,597.71 601.25,597.71 602.29,607.08 607.5,611.25 613.75,609.17 616.88,614.38 613.75,618.54 603.33,622.71 595,622.71 589.79,627.92 590.83,637.29 598.12,638.33 603.33,636.25 606.46,641.46 603.33,648.75 601.25,657.08 605.42,663.33 608.54,667.5 606.46,673.75 604.38,680 607.5,683.12 615.83,684.17 620,689.38 628.33,689.38 632.5,693.54 632.5,699.79 626.25,702.92 623.12,709.17"/>
<polyline points="616.88,614.38 624.17,615.42 632.5,614.38 636.67,611.25 634.58,605 626.25,602.92 624.17,598.75 630.42,595.62 638.75,596.67 642.92,592.5 651.25,590.42 657.5,586.25 663.75,588.33 670,590.42 674.17,596.67 678.33,600.83 684.58,602.92 688.75,598.75 688.75,590.42 687.71,580"/>
<polyline points="604.38,680 605.42,677.92 613.75,674.79 622.08,672.71 630.42,676.88 636.67,671.67 642.92,667.5 649.17,661.25 653.33,660.21 657.5,665.42 664.79,667.5 670,663.33 676.25,661.25 682.5,659.17 686.67,655 693.96,652.92 697.08,650.83 699.17,646.67"/>
<polyline points="949.58,294.58 960,300.83 962.08,305 969.38,300.83 972.5,309.17 975.62,315.42 980.83,321.67 978.75,327.92 981.88,336.25 985,345.62"/>
<path d="M128.75 460 L102.5 451.25 L93.75 442.5 L90 433.75 L81.25 428.75 L77.5 423.75 L65 422.5 L73.75 417.5 L71.25 410 L70 400 L57.5 393.75 L51.25 385 L47.5 377.5 L55 372.5 L57.5 362.5 L67.5 358.75 L72.5 355 L83.75 352.5 L87.5 357.5 L100 353.75 L106.25 345 L122.5 341.25 L135 335 L150 330 L162.5 323.75 L168.75 316.25 L167.5 310 L172.5 305 L170 302.5 L177.5 298.75 L176.25 290 L170 280 L170 271.25 L162.5 263.75 L170 261.25 L182.5 258.75 L195 255 L205 256.25 L210 253.75 L205 248.75 L212.5 232.5 L218.75 217.5 L230 220 L240 221.25 L252.5 222.5 L262.5 220 L265 210 L263.75 200 L267.5 192.5 L280 191.25 L286.25 185 L286.25 178.75 L305 177.5 L305 185 L312.5 191.25 L322.5 197.5 L332.5 201.25 L340 200 L340 203.75 L350 206.25 L352.5 215 L361.25 225 L362.5 231.25 L360 237.5 L361.25 242.5 L356.25 247.5 L357.5 255 L371.25 260 L385 261.25 L392.5 261.25 L406.25 262.5 L422.5 268.75 L430 276.25 L440 277.5 L443.75 283.75 L447.5 295 L457.5 306.25 L471.25 307.5 L490 310 L500 311.25 L512.5 311.25 L530 310 L545 311.25 L557.5 315 L560 318.75 L575 321.25 L582.5 325 L602.5 326.25 L606.25 330 L612.5 331.25 L617.5 327.5 L630 322.5 L640 320 L640 318 L655 315 L672.5 314.5 L693.75 313.75 L700 310 L707.5 309.5 L715 302.5 L723.75 295 L737.5 288.75 L733.75 281.25 L727.5 273.75 L737.5 260 L746.25 261.25 L752.5 265 L765 267.5 L775 262.5 L787.5 253.75 L800 253.75 L812.5 247.5 L820 237.5 L832.5 232.5 L840 230 L852.5 227.5 L862.5 226.25 L870 227.5 L878.75 227.5 L880 222.5 L875 216.25 L868.75 211.25 L860 203.75 L852.5 201.25 L843.75 202.5 L836.25 207.5 L828.75 203.75 L820 205 L810 206.25 L806.25 202.5 L801.25 200 L803.75 197.5 L807.5 195 L810 185 L815 177.5 L822.5 163.75 L830 165 L842.5 170 L855 162.5 L866.25 160 L866.25 160 L868.75 155 L866.25 151.25 L871.25 143.75 L878.75 133.75 L885 126.25 L892.5 120 L896.25 112.5 L895 107.5 L882.5 105 L890 98.75 L896.25 93.75 L910 91.25 L925 88.75 L935 87.5 L947.5 87.5 L960 91.25 L972.5 93.75 L985 97.5 L990 103.75 L996.25 112.5 L1000 122.5 L1006.25 132.5 L1010 140 L1013.75 148.75 L1017.5 160 L1021.25 166.25 L1030 168.75 L1038.75 168.75 L1047.5 172.5 L1057.5 175 L1065 180 L1072.5 183.75 L1075 192.5 L1077.5 202.5 L1082.5 206.25 L1092.5 206.25 L1105 205 L1110 202.5 L1120 198.75 L1132.5 195 L1145 192.5 L1152.5 192.5 L1146.25 198.75 L1145 207.5 L1137.5 215 L1135 225 L1131.25 235 L1125 245 L1117.5 252.5 L1115 261.25 L1106.25 257.5 L1095 255 L1086.25 261.25 L1080 265 L1082.5 275 L1083.75 285 L1085 295 L1080 303.75 L1071.25 308.75 L1072.5 315 L1065 305 L1058.75 303.75 L1056.25 313.75 L1047.5 316.25 L1041.25 322.5 L1030 325 L1031.25 333.75 L1023.75 333.75 L1015 331.25 L1008.75 332.5 L1005 327.5 L1000 330 L992.5 340 L985 345 L985 347.5 L972.5 357.5 L960 366.25 L945 370 L932.5 375 L922.5 381.25 L912.5 386.25 L902.5 390 L901.25 386.25 L910 380 L905 376.25 L906.25 370 L913.75 365 L921.25 357.5 L922.5 352.5 L913.75 347.5 L905 347.5 L896.25 351.25 L888.75 360 L880 365 L873.75 368.75 L868.75 375 L860 381.25 L856.25 385 L847.5 380 L843.75 385 L840 390 L842.5 396.25 L852.5 402.5 L861.25 402.5 L867.5 410 L862.5 415 L865 420 L876.25 422.5 L883.75 415 L892.5 407.5 L897.5 403.75 L896.25 407.5 L901.25 411.25 L906.25 415 L917.5 415 L930 418 L927.5 426.25 L921.25 428.75 L913.75 428.75 L905 432.5 L897.5 436.25 L892.5 441.25 L885 443.75 L885 447.5 L877.5 455 L871.25 462.5 L867.5 467.5 L868.75 471.25 L878.75 477.5 L887.5 481.25 L891.25 490 L896.25 500 L900 515 L907.5 520 L915 527.5 L917.5 537.5 L916.25 542.5 L918.75 547.5 L917.5 555 L910 553.75 L901.25 557.5 L910 562.5 L917.5 566.25 L920 572.5 L917.5 580 L918.75 587.5 L913.75 592.5 L915 600 L910 605 L903.75 608.75 L901.25 613.75 L895 620 L890 626.25 L887.5 632.5 L883.75 640 L878.75 641.25 L877.5 648.75 L880 658.75 L872.5 662.5 L866.25 668.75 L860 673.75 L853.75 680 L847.5 682.5 L842.5 687.5 L836.25 696.25 L830 700 L823.75 705 L817.5 710 L810 713.75 L801.25 717.5 L795 716.25 L787.5 718.75 L782.5 722.5 L775 725 L767.5 722.5 L770 717.5 L767.5 722.5 L765 727.5 L761.25 731.25 L757.5 733.12 L752.5 738.12 L748.75 739.38 L745 737.5 L740 736.88 L736.25 740 L730 741.88 L725 743.75 L720 745 L715 747.5 L710 750 L706.25 753.75 L707.5 756.25 L711.25 760 L713.12 765 L710 766.88 L706.25 768.12 L701.25 768.12 L699.38 764.38 L698.12 760 L696.88 756.25 L696.5 751.88 L698.75 748.12 L700 745 L698.12 743.12 L695 742.5 L690 743.75 L686.25 744 L685 741.25 L681.25 740 L677.5 738.75 L673.75 740.62 L669.38 741.88 L665 740 L660 740.62 L655 739.38 L651.25 736.88 L646.88 734.38 L643.12 732.5 L642.5 727.5 L640.62 723.75 L643.75 719.38 L645 715 L641.88 713.75 L636.25 712.5 L630 711.88 L625 710 L622.5 706.25 L620 705 L612.5 708.75 L605 715 L600 717.5 L595 715 L592.5 721.25 L586.25 716.25 L582.5 720 L578.75 722.5 L572.5 718.75 L565 717.5 L560 722.5 L552.5 723.75 L550 730 L553.75 735 L555 742.5 L555 748.75 L546.25 748.75 L543.75 742.5 L542.5 736.25 L536.25 741.25 L528.75 742.5 L522.5 737.5 L521.25 731.25 L513.75 730 L508 729.5 L510 722.5 L512.5 716.25 L513.75 710 L505 708.75 L501.25 701.25 L498.75 692.5 L501.25 688.75 L492.5 690 L486.25 692.5 L480 693.75 L482.5 686.25 L478.75 680 L480 673.75 L485 665 L491.25 658.75 L497.5 652.5 L500 645 L500 632.5 L500 620 L493.75 618.75 L492.5 610 L490 603.75 L483.75 605 L480 598.75 L475 607.5 L471.25 613.75 L465 610 L456.25 606.25 L447.5 603.75 L438.75 608.75 L432.5 613.75 L422.5 617.5 L417.5 620 L412.5 627.5 L405 631.25 L402.5 631.25 L382.5 632.5 L380 623.75 L372.5 617.5 L370 611.25 L362.5 610 L355 606.25 L345 605 L337.5 606.25 L331.25 610 L327.5 617.5 L326.25 625 L322 622.5 L322.5 613.75 L318.75 608.75 L310 610 L300 612.5 L292.5 612.5 L285 608.75 L277.5 607.5 L272.5 610 L267.5 603.75 L256.25 601.25 L255 596.25 L245 593.75 L237.5 585 L230 583.75 L225 578.75 L215 573.75 L206.25 566.25 L202.5 562.5 L193.75 560 L188.75 563.75 L185.5 568 L181.25 562.5 L173.75 557.5 L165 555 L157.5 547.5 L150 548.75 L145 543.75 L141.25 535 L140 527.5 L136.25 520 L135 516.25 L141.25 513.75 L143.75 520 L150 516.25 L151.25 507.5 L146.25 501.25 L141.25 495 L140 486.25 L145 480 L137.5 473.75 L131.25 470 L128.75 457.5Z M695 772.5 L701.25 772.5 L708.75 771.25 L714.38 769.38 L717.5 771.88 L720 772.5 L720.62 776.25 L721.88 779.38 L720 782.5 L716.25 786.25 L713.75 791.25 L713.12 796.25 L712.5 799.38 L707.5 801.25 L703.75 805 L700 806.88 L696.88 810 L694.38 811.25 L690 809.38 L685 807.5 L680 805.62 L677.5 803.12 L678.12 798.75 L677.5 793.75 L677.5 786.88 L681.25 783.75 L686.25 780 L688.75 775.62 L691.88 774.38Z M910 664.5 L916.25 667.5 L917.5 671.25 L915 680 L912.5 690 L910 700 L907.5 710 L903.75 717.5 L900 723.75 L898.75 732.5 L896.25 735 L893.75 731.25 L892.5 725 L886.25 718.75 L883.75 710 L883.75 700 L887.5 691.25 L893.75 680 L900 671.25 L905 666.25Z"/>
</g>
<polyline points="932.5,679.5 927,702" fill="none" stroke="#585858" stroke-width="1.6"/>
<polyline points="916.3,738.3 902.5,756.3" fill="none" stroke="#585858" stroke-width="1"/>
<polyline points="883,791.5 872.5,814" fill="none" stroke="#585858" stroke-width="1"/>
<polyline points="865,853 865,875.5" fill="none" stroke="#585858" stroke-width="1.6"/>
<polyline points="863.5,936.4 860.5,948 855.4,959.5" fill="none" stroke="#585858" stroke-width="1"/>
<polyline points="815,1018 801.4,1035.4" fill="none" stroke="#585858" stroke-width="1"/>
<polyline points="753.4,1105.6 734.5,1111.6" fill="none" stroke="#585858" stroke-width="1"/>
<polyline points="670,1037.5 669.4,1048 671.5,1059" fill="none" stroke="#585858" stroke-width="1.2"/>
<polyline points="708.4,931.6 706.6,944.5 703.6,952" fill="none" stroke="#585858" stroke-width="1.2"/>
<polyline points="689.5,850 695.5,859 699.4,872.5" fill="none" stroke="#585858" stroke-width="1"/>
<rect x="755.6" y="782.2" width="1.6" height="1.6" fill="#5c5c5c"/>
<rect x="770.2" y="788.2" width="1.6" height="1.6" fill="#5c5c5c"/>
<rect x="822.2" y="846.8" width="1.6" height="1.6" fill="#5c5c5c"/>
<rect x="840.8" y="870.8" width="1.6" height="1.6" fill="#5c5c5c"/>
<rect x="798.2" y="895.7" width="1.6" height="1.6" fill="#5c5c5c"/>
<rect x="942.95" y="654.7" width="1.6" height="1.6" fill="#5c5c5c"/>
<rect x="947.2" y="650.95" width="1.6" height="1.6" fill="#5c5c5c"/>
<rect x="962.95" y="650.95" width="1.6" height="1.6" fill="#5c5c5c"/>
<rect x="918.7" y="658.2" width="1.6" height="1.6" fill="#5c5c5c"/>
<rect x="907.95" y="717.95" width="1.6" height="1.6" fill="#5c5c5c"/>
<rect x="908.7" y="729.95" width="1.6" height="1.6" fill="#5c5c5c"/>
<rect x="809.2" y="751.2" width="1.6" height="1.6" fill="#5c5c5c"/>
<rect x="824.2" y="757.95" width="1.6" height="1.6" fill="#5c5c5c"/>
<rect x="872.2" y="699.2" width="1.6" height="1.6" fill="#5c5c5c"/>
<rect x="874.2" y="704.2" width="1.6" height="1.6" fill="#5c5c5c"/>
<rect x="870.2" y="706.2" width="1.6" height="1.6" fill="#5c5c5c"/>
<rect x="725.2" y="837.2" width="1.6" height="1.6" fill="#5c5c5c"/>
<rect x="685.2" y="751.2" width="1.6" height="1.6" fill="#5c5c5c"/>
<rect x="735.35" y="836.35" width="1.5" height="1.5" fill="#5c5c5c"/>
<rect x="742.55" y="834.25" width="1.5" height="1.5" fill="#5c5c5c"/>
<rect x="740.05" y="842.15" width="1.5" height="1.5" fill="#5c5c5c"/>
<rect x="729.55" y="845.95" width="1.5" height="1.5" fill="#5c5c5c"/>
<rect x="729.05" y="843.95" width="1.5" height="1.5" fill="#5c5c5c"/>
<rect x="729.75" y="834.65" width="1.5" height="1.5" fill="#5c5c5c"/>
<rect x="737.55" y="854.55" width="1.5" height="1.5" fill="#5c5c5c"/>
<rect x="730.95" y="838.25" width="1.5" height="1.5" fill="#5c5c5c"/>
<rect x="742.05" y="857.85" width="1.5" height="1.5" fill="#5c5c5c"/>
<rect x="740.95" y="842.95" width="1.5" height="1.5" fill="#5c5c5c"/>
<rect x="749.75" y="833.55" width="1.5" height="1.5" fill="#5c5c5c"/>
<rect x="747.15" y="840.05" width="1.5" height="1.5" fill="#5c5c5c"/>
<rect x="731.45" y="835.45" width="1.5" height="1.5" fill="#5c5c5c"/>
<rect x="735.05" y="854.25" width="1.5" height="1.5" fill="#5c5c5c"/>
<rect x="732.25" y="847.95" width="1.5" height="1.5" fill="#5c5c5c"/>
<rect x="742.35" y="842.35" width="1.5" height="1.5" fill="#5c5c5c"/>
<rect x="781.4" y="850.4" width="1" height="1" fill="#5c5c5c"/>
<rect x="772.6" y="852.6" width="1" height="1" fill="#5c5c5c"/>
<rect x="783.7" y="855.9" width="1" height="1" fill="#5c5c5c"/>
<rect x="777.2" y="858.3" width="1" height="1" fill="#5c5c5c"/>
<rect x="779.7" y="854" width="1" height="1" fill="#5c5c5c"/>
<rect x="785.8" y="860" width="1" height="1" fill="#5c5c5c"/>
<rect x="775.9" y="858.1" width="1" height="1" fill="#5c5c5c"/>
<rect x="783.25" y="996.95" width="1.3" height="1.3" fill="#5c5c5c"/>
<rect x="790.15" y="962.35" width="1.3" height="1.3" fill="#5c5c5c"/>
<rect x="798.65" y="952.35" width="1.3" height="1.3" fill="#5c5c5c"/>
<rect x="779.55" y="990.05" width="1.3" height="1.3" fill="#5c5c5c"/>
<rect x="770.55" y="974.15" width="1.3" height="1.3" fill="#5c5c5c"/>
<rect x="766.65" y="984.75" width="1.3" height="1.3" fill="#5c5c5c"/>
<rect x="791.35" y="979.15" width="1.3" height="1.3" fill="#5c5c5c"/>
<rect x="795.15" y="963.85" width="1.3" height="1.3" fill="#5c5c5c"/>
<rect x="788.95" y="980.45" width="1.3" height="1.3" fill="#5c5c5c"/>
<rect x="785.05" y="972.25" width="1.3" height="1.3" fill="#5c5c5c"/>
<rect x="793.95" y="1001.05" width="1.3" height="1.3" fill="#5c5c5c"/>
<rect x="781.45" y="984.55" width="1.3" height="1.3" fill="#5c5c5c"/>
<rect x="767.45" y="986.75" width="1.3" height="1.3" fill="#5c5c5c"/>
<rect x="787.35" y="1003.95" width="1.3" height="1.3" fill="#5c5c5c"/>
<rect x="793.25" y="962.15" width="1.3" height="1.3" fill="#5c5c5c"/>
<rect x="778.45" y="984.85" width="1.3" height="1.3" fill="#5c5c5c"/>
<rect x="766.15" y="972.55" width="1.3" height="1.3" fill="#5c5c5c"/>
<rect x="771.05" y="952.25" width="1.3" height="1.3" fill="#5c5c5c"/>
<rect x="767.35" y="990.65" width="1.3" height="1.3" fill="#5c5c5c"/>
<rect x="769.75" y="959.95" width="1.3" height="1.3" fill="#5c5c5c"/>
<rect x="778.65" y="996.75" width="1.3" height="1.3" fill="#5c5c5c"/>
<rect x="768.05" y="971.85" width="1.3" height="1.3" fill="#5c5c5c"/>
<rect x="823.55" y="993.55" width="1.3" height="1.3" fill="#5c5c5c"/>
<rect x="835.35" y="992.55" width="1.3" height="1.3" fill="#5c5c5c"/>
<rect x="811.65" y="970.15" width="1.3" height="1.3" fill="#5c5c5c"/>
<rect x="815.15" y="993.55" width="1.3" height="1.3" fill="#5c5c5c"/>
<rect x="841.45" y="956.85" width="1.3" height="1.3" fill="#5c5c5c"/>
<rect x="807.15" y="960.95" width="1.3" height="1.3" fill="#5c5c5c"/>
<rect x="809.65" y="973.55" width="1.3" height="1.3" fill="#5c5c5c"/>
<rect x="825.25" y="962.45" width="1.3" height="1.3" fill="#5c5c5c"/>
<rect x="799.55" y="970.25" width="1.3" height="1.3" fill="#5c5c5c"/>
<rect x="815.55" y="977.65" width="1.3" height="1.3" fill="#5c5c5c"/>
<rect x="841.25" y="983.85" width="1.3" height="1.3" fill="#5c5c5c"/>
<rect x="822.05" y="980.25" width="1.3" height="1.3" fill="#5c5c5c"/>
<rect x="829.15" y="952.05" width="1.3" height="1.3" fill="#5c5c5c"/>
<rect x="838.95" y="988.35" width="1.3" height="1.3" fill="#5c5c5c"/>
<rect x="837.85" y="989.25" width="1.3" height="1.3" fill="#5c5c5c"/>
<rect x="816.65" y="969.25" width="1.3" height="1.3" fill="#5c5c5c"/>
<rect x="733.75" y="1021.15" width="1.3" height="1.3" fill="#5c5c5c"/>
<rect x="731.25" y="1005.25" width="1.3" height="1.3" fill="#5c5c5c"/>
<rect x="740.25" y="1007.85" width="1.3" height="1.3" fill="#5c5c5c"/>
<rect x="748.45" y="1004.85" width="1.3" height="1.3" fill="#5c5c5c"/>
<rect x="727.35" y="1007.55" width="1.3" height="1.3" fill="#5c5c5c"/>
<rect x="733.65" y="1013.55" width="1.3" height="1.3" fill="#5c5c5c"/>
<rect x="728.95" y="1027.85" width="1.3" height="1.3" fill="#5c5c5c"/>
<rect x="765.45" y="1007.55" width="1.3" height="1.3" fill="#5c5c5c"/>
<rect x="742.95" y="1013.05" width="1.3" height="1.3" fill="#5c5c5c"/>
<rect x="749.95" y="1006.75" width="1.3" height="1.3" fill="#5c5c5c"/>
<rect x="779.95" y="1031.15" width="1.3" height="1.3" fill="#5c5c5c"/>
<rect x="756.25" y="1016.85" width="1.3" height="1.3" fill="#5c5c5c"/>
<rect x="732.65" y="1006.25" width="1.3" height="1.3" fill="#5c5c5c"/>
<rect x="748.55" y="1010.75" width="1.3" height="1.3" fill="#5c5c5c"/>
<rect x="709" y="1017" width="1.2" height="1.2" fill="#5c5c5c"/>
<rect x="692.9" y="1029.6" width="1.2" height="1.2" fill="#5c5c5c"/>
<rect x="703" y="1016.7" width="1.2" height="1.2" fill="#5c5c5c"/>
<rect x="703.3" y="1014.8" width="1.2" height="1.2" fill="#5c5c5c"/>
<rect x="749.7" y="1079" width="1.2" height="1.2" fill="#5c5c5c"/>
<rect x="753" y="1073.3" width="1.2" height="1.2" fill="#5c5c5c"/>
<rect x="747" y="1066.7" width="1.2" height="1.2" fill="#5c5c5c"/>
<rect x="746.1" y="1074.8" width="1.2" height="1.2" fill="#5c5c5c"/>
<rect x="749.7" y="1075" width="1.2" height="1.2" fill="#5c5c5c"/>
<rect x="740" y="1100.3" width="1.2" height="1.2" fill="#5c5c5c"/>
<rect x="742.5" y="1103.3" width="1.2" height="1.2" fill="#5c5c5c"/>
<polygon points="771.5,1026 776,1020 785,1018 786.5,1021 780,1026 774,1028" fill="#ffffe5" stroke="#585858" stroke-width="0.6"/>
<ellipse cx="919" cy="563" rx="3" ry="1.6" fill="#ffffe5" stroke="#585858" stroke-width="0.9"/>
<ellipse cx="922" cy="568" rx="3.2" ry="2" fill="#ffffe5" stroke="#585858" stroke-width="0.9"/>
<ellipse cx="917" cy="570" rx="2" ry="1.5" fill="#ffffe5" stroke="#585858" stroke-width="0.9"/>
<ellipse cx="924" cy="573" rx="2.2" ry="1.6" fill="#ffffe5" stroke="#585858" stroke-width="0.9"/>
<ellipse cx="920" cy="575" rx="1.8" ry="1.2" fill="#ffffe5" stroke="#585858" stroke-width="0.9"/>
<ellipse cx="915" cy="566" rx="1.5" ry="1.2" fill="#ffffe5" stroke="#585858" stroke-width="0.9"/>
<ellipse cx="926" cy="564" rx="1.5" ry="1" fill="#ffffe5" stroke="#585858" stroke-width="0.9"/>
<ellipse cx="918" cy="560" rx="1.4" ry="0.9" fill="#ffffe5" stroke="#585858" stroke-width="0.9"/>
<rect x="925.2" y="573.5" width="1.2" height="1.2" fill="#5c5c5c"/>
<rect x="924.7" y="572.2" width="1.2" height="1.2" fill="#5c5c5c"/>
<rect x="915.8" y="567.8" width="1.2" height="1.2" fill="#5c5c5c"/>
<rect x="917.7" y="558" width="1.2" height="1.2" fill="#5c5c5c"/>
<rect x="912.8" y="563" width="1.2" height="1.2" fill="#5c5c5c"/>
<rect x="916.3" y="571.3" width="1.2" height="1.2" fill="#5c5c5c"/>
<rect x="926.7" y="566.3" width="1.2" height="1.2" fill="#5c5c5c"/>
<rect x="926.5" y="577.2" width="1.2" height="1.2" fill="#5c5c5c"/>
<rect x="929.5" y="552.5" width="1" height="1" fill="#5c5c5c"/>
<rect x="933.5" y="554.5" width="1" height="1" fill="#5c5c5c"/>
<rect x="921.5" y="551.5" width="1" height="1" fill="#5c5c5c"/>
<rect x="901.5" y="392.5" width="1" height="1" fill="#5c5c5c"/>
<rect x="905.5" y="390.5" width="1" height="1" fill="#5c5c5c"/>
<rect x="911.5" y="387.5" width="1" height="1" fill="#5c5c5c"/>
<rect x="919.5" y="384.5" width="1" height="1" fill="#5c5c5c"/>
<rect x="924.5" y="382.5" width="1" height="1" fill="#5c5c5c"/>
<rect x="929.5" y="380.5" width="1" height="1" fill="#5c5c5c"/>
<rect x="935.5" y="377.5" width="1" height="1" fill="#5c5c5c"/>
<rect x="940.5" y="379.5" width="1" height="1" fill="#5c5c5c"/>
</svg>
<div class="fr" style="left:24px;top:24px;width:1152px;height:1px"></div>
<div class="fr" style="left:24px;top:24px;width:1px;height:1152px"></div>
<div class="fr" style="left:1174px;top:24px;width:2px;height:1152px"></div>
<div class="fr" style="left:24px;top:1174px;width:1152px;height:2px"></div>
<div class="title"><span class="cj tc" style="left:48px;top:56.5px">父系：</span><span class="tl" style="left:204px;top:58.5px"> R1a (</span><span class="cj tc" style="left:345px;top:56.5px">含下游</span><span class="tl" style="left:504px;top:58.5px">)</span></div>
<div class="lt cj">相对占比</div>
<div class="sw" style="top:805.50px;height:33.85px;background:#ffffe5"></div>
<div class="ll" style="top:807.80px">0.07% - 0.57%</div>
<div class="sw" style="top:839.05px;height:33.85px;background:#fff8c1"></div>
<div class="ll" style="top:841.35px">0.57% - 1.20%</div>
<div class="sw" style="top:872.60px;height:33.85px;background:#fee79b"></div>
<div class="ll" style="top:874.90px">1.20% - 2.19%</div>
<div class="sw" style="top:906.15px;height:33.85px;background:#fece65"></div>
<div class="ll" style="top:908.45px">2.19% - 3.49%</div>
<div class="sw" style="top:939.70px;height:33.85px;background:#feac3a"></div>
<div class="ll" style="top:942.00px">3.49% - 5.56%</div>
<div class="sw" style="top:973.25px;height:33.85px;background:#f68720"></div>
<div class="ll" style="top:975.55px">5.56% - 8.39%</div>
<div class="sw" style="top:1006.80px;height:33.85px;background:#e1640e"></div>
<div class="ll" style="top:1009.10px">8.39% - 10.34%</div>
<div class="sw" style="top:1040.35px;height:33.85px;background:#c14702"></div>
<div class="ll" style="top:1042.65px">10.34% - 14.29%</div>
<div class="sw" style="top:1073.90px;height:33.85px;background:#933204"></div>
<div class="ll" style="top:1076.20px">14.29% - 19.27%</div>
<div class="sw" style="top:1107.45px;height:33.85px;background:#662506"></div>
<div class="ll" style="top:1109.75px">19.27% - 23.44%</div>
<div class="au"><span class="cj">作者</span><span class="la">:O1a</span><span class="cj">溯源群</span></div>
</body></html>
